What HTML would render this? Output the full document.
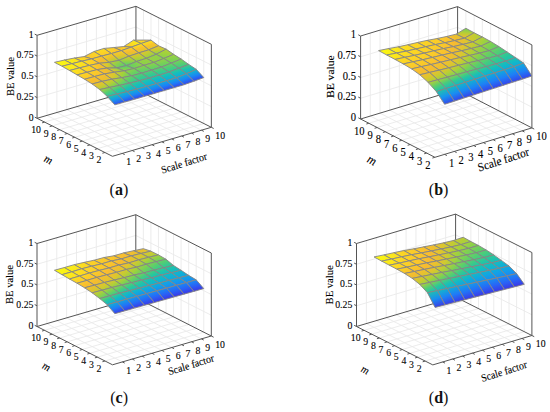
<!DOCTYPE html>
<html><head><meta charset="utf-8"><style>
html,body{margin:0;padding:0;background:#fff;}
svg{display:block;font-family:"Liberation Serif",serif;}
</style></head><body>
<svg width="550" height="412" viewBox="0 0 550 412">
<defs><linearGradient id="g1" gradientUnits="userSpaceOnUse" x1="142.67" y1="38.77" x2="141.88" y2="43.63"><stop offset="0" stop-color="#fac52b"/><stop offset="0.5" stop-color="#fcd624"/><stop offset="1" stop-color="#faea19"/></linearGradient><linearGradient id="g2" gradientUnits="userSpaceOnUse" x1="130.1" y1="49.43" x2="134.23" y2="40.37"><stop offset="0" stop-color="#fac92a"/><stop offset="0.5" stop-color="#fcd922"/><stop offset="1" stop-color="#faeb19"/></linearGradient><linearGradient id="g3" gradientUnits="userSpaceOnUse" x1="151.2" y1="49.06" x2="148.6" y2="40.9"><stop offset="0" stop-color="#e1c42e"/><stop offset="0.5" stop-color="#f9c32c"/><stop offset="1" stop-color="#fbe41d"/></linearGradient><linearGradient id="g4" gradientUnits="userSpaceOnUse" x1="116.79" y1="51.87" x2="128.86" y2="43.64"><stop offset="0" stop-color="#f9c32c"/><stop offset="0.5" stop-color="#faca29"/><stop offset="1" stop-color="#fbd126"/></linearGradient><linearGradient id="g5" gradientUnits="userSpaceOnUse" x1="140.99" y1="52.31" x2="138.86" y2="44.1"><stop offset="0" stop-color="#ddc62e"/><stop offset="0.5" stop-color="#f9c12d"/><stop offset="1" stop-color="#fbe31d"/></linearGradient><linearGradient id="g6" gradientUnits="userSpaceOnUse" x1="158.18" y1="53.93" x2="156.71" y2="46.15"><stop offset="0" stop-color="#8cd14a"/><stop offset="0.5" stop-color="#c7cb31"/><stop offset="1" stop-color="#ecbf2f"/></linearGradient><linearGradient id="g7" gradientUnits="userSpaceOnUse" x1="118.03" y1="54.57" x2="106.76" y2="45.07"><stop offset="0" stop-color="#f9c02e"/><stop offset="0.5" stop-color="#fbcd28"/><stop offset="1" stop-color="#fcda22"/></linearGradient><linearGradient id="g8" gradientUnits="userSpaceOnUse" x1="130.72" y1="55.95" x2="129.42" y2="47.42"><stop offset="0" stop-color="#d6c82d"/><stop offset="0.5" stop-color="#f4bb30"/><stop offset="1" stop-color="#fcd425"/></linearGradient><linearGradient id="g9" gradientUnits="userSpaceOnUse" x1="149.56" y1="57.78" x2="145.25" y2="49.51"><stop offset="0" stop-color="#90d147"/><stop offset="0.5" stop-color="#c0cc33"/><stop offset="1" stop-color="#e4c32e"/></linearGradient><linearGradient id="g10" gradientUnits="userSpaceOnUse" x1="164.11" y1="58.58" x2="165.85" y2="49.06"><stop offset="0" stop-color="#86d14d"/><stop offset="0.5" stop-color="#9fd23d"/><stop offset="1" stop-color="#b5ce36"/></linearGradient><linearGradient id="g11" gradientUnits="userSpaceOnUse" x1="103.68" y1="55.71" x2="101.81" y2="49.02"><stop offset="0" stop-color="#fac929"/><stop offset="0.5" stop-color="#fcd325"/><stop offset="1" stop-color="#fbdd20"/></linearGradient><linearGradient id="g12" gradientUnits="userSpaceOnUse" x1="120.97" y1="60" x2="119.5" y2="50.93"><stop offset="0" stop-color="#a6d13a"/><stop offset="0.5" stop-color="#e4c32e"/><stop offset="1" stop-color="#facb29"/></linearGradient><linearGradient id="g13" gradientUnits="userSpaceOnUse" x1="138.29" y1="61.2" x2="136.93" y2="53.2"><stop offset="0" stop-color="#8cd149"/><stop offset="0.5" stop-color="#bdcd34"/><stop offset="1" stop-color="#e2c32e"/></linearGradient><linearGradient id="g14" gradientUnits="userSpaceOnUse" x1="163.19" y1="60.62" x2="146.92" y2="56.17"><stop offset="0" stop-color="#8ad14b"/><stop offset="0.5" stop-color="#92d146"/><stop offset="1" stop-color="#9ad240"/></linearGradient><linearGradient id="g15" gradientUnits="userSpaceOnUse" x1="90.23" y1="60.18" x2="95.05" y2="52.1"><stop offset="0" stop-color="#fac52b"/><stop offset="0.5" stop-color="#fbcd28"/><stop offset="1" stop-color="#fcd425"/></linearGradient><linearGradient id="g16" gradientUnits="userSpaceOnUse" x1="173.01" y1="62.84" x2="171.93" y2="54.55"><stop offset="0" stop-color="#6ed05d"/><stop offset="0.5" stop-color="#86d14d"/><stop offset="1" stop-color="#9ed23d"/></linearGradient><linearGradient id="g17" gradientUnits="userSpaceOnUse" x1="112.62" y1="63.21" x2="108.08" y2="53.19"><stop offset="0" stop-color="#a3d13b"/><stop offset="0.5" stop-color="#e5c22e"/><stop offset="1" stop-color="#fbd027"/></linearGradient><linearGradient id="g18" gradientUnits="userSpaceOnUse" x1="127.68" y1="65.58" x2="127.77" y2="56.22"><stop offset="0" stop-color="#52cd74"/><stop offset="0.5" stop-color="#96d143"/><stop offset="1" stop-color="#d7c82d"/></linearGradient><linearGradient id="g19" gradientUnits="userSpaceOnUse" x1="144.98" y1="65.37" x2="145.34" y2="58.27"><stop offset="0" stop-color="#8ad14b"/><stop offset="0.5" stop-color="#92d145"/><stop offset="1" stop-color="#9ad240"/></linearGradient><linearGradient id="g20" gradientUnits="userSpaceOnUse" x1="83.4" y1="56.41" x2="82.47" y2="61.33"><stop offset="0" stop-color="#fac52b"/><stop offset="0.5" stop-color="#fcd524"/><stop offset="1" stop-color="#fbe61b"/></linearGradient><linearGradient id="g21" gradientUnits="userSpaceOnUse" x1="163.58" y1="66.51" x2="161.61" y2="59.09"><stop offset="0" stop-color="#62cf66"/><stop offset="0.5" stop-color="#7ad056"/><stop offset="1" stop-color="#92d146"/></linearGradient><linearGradient id="g22" gradientUnits="userSpaceOnUse" x1="105.61" y1="65.65" x2="95.65" y2="55.14"><stop offset="0" stop-color="#d9c72d"/><stop offset="0.5" stop-color="#f8bb2f"/><stop offset="1" stop-color="#fcdb21"/></linearGradient><linearGradient id="g23" gradientUnits="userSpaceOnUse" x1="180.91" y1="67.75" x2="179.09" y2="59.51"><stop offset="0" stop-color="#38c98c"/><stop offset="0.5" stop-color="#59ce6e"/><stop offset="1" stop-color="#7ed052"/></linearGradient><linearGradient id="g24" gradientUnits="userSpaceOnUse" x1="121.5" y1="69.17" x2="114.1" y2="58.78"><stop offset="0" stop-color="#4fcc77"/><stop offset="0.5" stop-color="#8ad14a"/><stop offset="1" stop-color="#c6cb32"/></linearGradient><linearGradient id="g25" gradientUnits="userSpaceOnUse" x1="127.68" y1="68.33" x2="142.7" y2="62.19"><stop offset="0" stop-color="#5cce6c"/><stop offset="0.5" stop-color="#79d056"/><stop offset="1" stop-color="#99d241"/></linearGradient><linearGradient id="g26" gradientUnits="userSpaceOnUse" x1="76.32" y1="56.75" x2="69.97" y2="64.57"><stop offset="0" stop-color="#fbde20"/><stop offset="0.5" stop-color="#fbe81a"/><stop offset="1" stop-color="#faf115"/></linearGradient><linearGradient id="g27" gradientUnits="userSpaceOnUse" x1="153.54" y1="69.62" x2="151.87" y2="62.91"><stop offset="0" stop-color="#5ace6d"/><stop offset="0.5" stop-color="#73d05a"/><stop offset="1" stop-color="#8fd147"/></linearGradient><linearGradient id="g28" gradientUnits="userSpaceOnUse" x1="99.25" y1="62.45" x2="81.78" y2="61.95"><stop offset="0" stop-color="#f9c32c"/><stop offset="0.5" stop-color="#fbd226"/><stop offset="1" stop-color="#fbe11e"/></linearGradient><linearGradient id="g29" gradientUnits="userSpaceOnUse" x1="171.01" y1="71.54" x2="169.21" y2="63.54"><stop offset="0" stop-color="#2cc898"/><stop offset="0.5" stop-color="#4ccc7a"/><stop offset="1" stop-color="#6ed05d"/></linearGradient><linearGradient id="g30" gradientUnits="userSpaceOnUse" x1="115.64" y1="63.59" x2="100.17" y2="67.25"><stop offset="0" stop-color="#78d057"/><stop offset="0.5" stop-color="#d6c82d"/><stop offset="1" stop-color="#fac72a"/></linearGradient><linearGradient id="g31" gradientUnits="userSpaceOnUse" x1="188.63" y1="73.12" x2="186.55" y2="64.96"><stop offset="0" stop-color="#10b1d4"/><stop offset="0.5" stop-color="#1dc1b0"/><stop offset="1" stop-color="#46cb7f"/></linearGradient><linearGradient id="g32" gradientUnits="userSpaceOnUse" x1="125.31" y1="65.6" x2="125.44" y2="70.79"><stop offset="0" stop-color="#52cd75"/><stop offset="0.5" stop-color="#76d058"/><stop offset="1" stop-color="#9dd23e"/></linearGradient><linearGradient id="g33" gradientUnits="userSpaceOnUse" x1="70.92" y1="66.15" x2="55.42" y2="59.99"><stop offset="0" stop-color="#faeb19"/><stop offset="0.5" stop-color="#faf313"/><stop offset="1" stop-color="#faf90f"/></linearGradient><linearGradient id="g34" gradientUnits="userSpaceOnUse" x1="143.43" y1="72.86" x2="142.17" y2="65.63"><stop offset="0" stop-color="#50cd76"/><stop offset="0.5" stop-color="#6ccf5f"/><stop offset="1" stop-color="#8cd149"/></linearGradient><linearGradient id="g35" gradientUnits="userSpaceOnUse" x1="88.66" y1="67.37" x2="72.59" y2="61.73"><stop offset="0" stop-color="#fcd525"/><stop offset="0.5" stop-color="#fbe01e"/><stop offset="1" stop-color="#faed18"/></linearGradient><linearGradient id="g36" gradientUnits="userSpaceOnUse" x1="160.97" y1="74.8" x2="159.51" y2="67.46"><stop offset="0" stop-color="#25c5a2"/><stop offset="0.5" stop-color="#40ca85"/><stop offset="1" stop-color="#60cf67"/></linearGradient><linearGradient id="g37" gradientUnits="userSpaceOnUse" x1="106.69" y1="66.27" x2="89.41" y2="67"><stop offset="0" stop-color="#eac02f"/><stop offset="0.5" stop-color="#f9c22c"/><stop offset="1" stop-color="#fcd923"/></linearGradient><linearGradient id="g38" gradientUnits="userSpaceOnUse" x1="178.87" y1="77.06" x2="176.49" y2="68.89"><stop offset="0" stop-color="#10abdb"/><stop offset="0.5" stop-color="#14bebe"/><stop offset="1" stop-color="#37c98d"/></linearGradient><linearGradient id="g39" gradientUnits="userSpaceOnUse" x1="116.36" y1="67.62" x2="114.46" y2="72.29"><stop offset="0" stop-color="#87d14d"/><stop offset="0.5" stop-color="#bfcc34"/><stop offset="1" stop-color="#e7c12e"/></linearGradient><linearGradient id="g40" gradientUnits="userSpaceOnUse" x1="196.66" y1="80.35" x2="193.43" y2="70.29"><stop offset="0" stop-color="#3546ed"/><stop offset="0.5" stop-color="#1a89f3"/><stop offset="1" stop-color="#12b9c7"/></linearGradient><linearGradient id="g41" gradientUnits="userSpaceOnUse" x1="136.15" y1="76.87" x2="129.61" y2="67.17"><stop offset="0" stop-color="#4fcc77"/><stop offset="0.5" stop-color="#72d05b"/><stop offset="1" stop-color="#9ad240"/></linearGradient><linearGradient id="g42" gradientUnits="userSpaceOnUse" x1="75.98" y1="71.78" x2="65.5" y2="62.4"><stop offset="0" stop-color="#fbe01e"/><stop offset="0.5" stop-color="#faeb19"/><stop offset="1" stop-color="#faf214"/></linearGradient><linearGradient id="g43" gradientUnits="userSpaceOnUse" x1="151.23" y1="77.54" x2="149.45" y2="70.66"><stop offset="0" stop-color="#24c4a5"/><stop offset="0.5" stop-color="#3aca8b"/><stop offset="1" stop-color="#57cd70"/></linearGradient><linearGradient id="g44" gradientUnits="userSpaceOnUse" x1="93.86" y1="73.42" x2="82.43" y2="64.2"><stop offset="0" stop-color="#fac92a"/><stop offset="0.5" stop-color="#fcd425"/><stop offset="1" stop-color="#fbe01f"/></linearGradient><linearGradient id="g45" gradientUnits="userSpaceOnUse" x1="168.71" y1="80.12" x2="166.8" y2="72.55"><stop offset="0" stop-color="#10aadc"/><stop offset="0.5" stop-color="#13bbc2"/><stop offset="1" stop-color="#2ac79a"/></linearGradient><linearGradient id="g46" gradientUnits="userSpaceOnUse" x1="109.37" y1="67.25" x2="101.86" y2="74.7"><stop offset="0" stop-color="#dec52e"/><stop offset="0.5" stop-color="#f2bc2f"/><stop offset="1" stop-color="#fac92a"/></linearGradient><linearGradient id="g47" gradientUnits="userSpaceOnUse" x1="186.76" y1="83.79" x2="183.57" y2="74.68"><stop offset="0" stop-color="#3547ed"/><stop offset="0.5" stop-color="#1c83f5"/><stop offset="1" stop-color="#0fb0d5"/></linearGradient><linearGradient id="g48" gradientUnits="userSpaceOnUse" x1="130.6" y1="78.01" x2="115.36" y2="70.19"><stop offset="0" stop-color="#5ace6d"/><stop offset="0.5" stop-color="#a0d23c"/><stop offset="1" stop-color="#dcc62d"/></linearGradient><linearGradient id="g49" gradientUnits="userSpaceOnUse" x1="142.54" y1="81.27" x2="138.37" y2="72.6"><stop offset="0" stop-color="#25c5a3"/><stop offset="0.5" stop-color="#3eca86"/><stop offset="1" stop-color="#5fce69"/></linearGradient><linearGradient id="g50" gradientUnits="userSpaceOnUse" x1="82.03" y1="76.18" x2="74.52" y2="66.61"><stop offset="0" stop-color="#fbd126"/><stop offset="0.5" stop-color="#fcdc21"/><stop offset="1" stop-color="#fbe91a"/></linearGradient><linearGradient id="g51" gradientUnits="userSpaceOnUse" x1="158.92" y1="82.91" x2="156.85" y2="75.83"><stop offset="0" stop-color="#10abdb"/><stop offset="0.5" stop-color="#13bac5"/><stop offset="1" stop-color="#25c5a3"/></linearGradient><linearGradient id="g52" gradientUnits="userSpaceOnUse" x1="100.95" y1="77.8" x2="90.46" y2="68.41"><stop offset="0" stop-color="#f9bf2e"/><stop offset="0.5" stop-color="#fac82a"/><stop offset="1" stop-color="#fbd126"/></linearGradient><linearGradient id="g53" gradientUnits="userSpaceOnUse" x1="176.56" y1="86.94" x2="174.07" y2="78.46"><stop offset="0" stop-color="#3547ed"/><stop offset="0.5" stop-color="#1d80f7"/><stop offset="1" stop-color="#10abdb"/></linearGradient><linearGradient id="g54" gradientUnits="userSpaceOnUse" x1="120.21" y1="80.25" x2="106.09" y2="71.29"><stop offset="0" stop-color="#97d242"/><stop offset="0.5" stop-color="#dac72d"/><stop offset="1" stop-color="#f9bf2e"/></linearGradient><linearGradient id="g55" gradientUnits="userSpaceOnUse" x1="134.45" y1="84.41" x2="126.53" y2="74.08"><stop offset="0" stop-color="#29c69d"/><stop offset="0.5" stop-color="#56cd71"/><stop offset="1" stop-color="#8fd147"/></linearGradient><linearGradient id="g56" gradientUnits="userSpaceOnUse" x1="149.48" y1="86.21" x2="146.49" y2="78.06"><stop offset="0" stop-color="#10abdb"/><stop offset="0.5" stop-color="#13bcc2"/><stop offset="1" stop-color="#2bc799"/></linearGradient><linearGradient id="g57" gradientUnits="userSpaceOnUse" x1="88.92" y1="80.33" x2="82.68" y2="71.11"><stop offset="0" stop-color="#fac52b"/><stop offset="0.5" stop-color="#fbce27"/><stop offset="1" stop-color="#fcd723"/></linearGradient><linearGradient id="g58" gradientUnits="userSpaceOnUse" x1="166.67" y1="89.84" x2="164.18" y2="81.36"><stop offset="0" stop-color="#3547ed"/><stop offset="0.5" stop-color="#1d80f7"/><stop offset="1" stop-color="#10abdb"/></linearGradient><linearGradient id="g59" gradientUnits="userSpaceOnUse" x1="106.5" y1="82.78" x2="100.1" y2="72.92"><stop offset="0" stop-color="#dac72d"/><stop offset="0.5" stop-color="#f0bd2f"/><stop offset="1" stop-color="#fac82a"/></linearGradient><linearGradient id="g60" gradientUnits="userSpaceOnUse" x1="124.81" y1="86.72" x2="116.39" y2="75.81"><stop offset="0" stop-color="#39c98b"/><stop offset="0.5" stop-color="#83d14f"/><stop offset="1" stop-color="#d2c92e"/></linearGradient><linearGradient id="g61" gradientUnits="userSpaceOnUse" x1="139.71" y1="89.05" x2="136.45" y2="80.49"><stop offset="0" stop-color="#10add9"/><stop offset="0.5" stop-color="#17bfb9"/><stop offset="1" stop-color="#3cca89"/></linearGradient><linearGradient id="g62" gradientUnits="userSpaceOnUse" x1="156.84" y1="92.79" x2="154.21" y2="84.09"><stop offset="0" stop-color="#3547ed"/><stop offset="0.5" stop-color="#1d81f6"/><stop offset="1" stop-color="#0faed8"/></linearGradient><linearGradient id="g63" gradientUnits="userSpaceOnUse" x1="95.31" y1="84.51" x2="91.43" y2="76.14"><stop offset="0" stop-color="#ebc02f"/><stop offset="0.5" stop-color="#f8bc2f"/><stop offset="1" stop-color="#faca29"/></linearGradient><linearGradient id="g64" gradientUnits="userSpaceOnUse" x1="113.92" y1="88.67" x2="107.68" y2="78.08"><stop offset="0" stop-color="#60cf67"/><stop offset="0.5" stop-color="#b1cf37"/><stop offset="1" stop-color="#ebc02f"/></linearGradient><linearGradient id="g65" gradientUnits="userSpaceOnUse" x1="130.45" y1="92.13" x2="125.92" y2="82.39"><stop offset="0" stop-color="#0fafd6"/><stop offset="0.5" stop-color="#22c3a8"/><stop offset="1" stop-color="#5dce6b"/></linearGradient><linearGradient id="g66" gradientUnits="userSpaceOnUse" x1="146.97" y1="95.68" x2="144.3" y2="86.88"><stop offset="0" stop-color="#3547ed"/><stop offset="0.5" stop-color="#1c83f6"/><stop offset="1" stop-color="#0fb0d5"/></linearGradient><linearGradient id="g67" gradientUnits="userSpaceOnUse" x1="103.28" y1="90.49" x2="98.59" y2="80.86"><stop offset="0" stop-color="#92d145"/><stop offset="0.5" stop-color="#d1c92f"/><stop offset="1" stop-color="#f4bc30"/></linearGradient><linearGradient id="g68" gradientUnits="userSpaceOnUse" x1="120.82" y1="94.69" x2="115.76" y2="84.39"><stop offset="0" stop-color="#11b6cb"/><stop offset="0.5" stop-color="#35c98e"/><stop offset="1" stop-color="#8bd14a"/></linearGradient><linearGradient id="g69" gradientUnits="userSpaceOnUse" x1="137.22" y1="98.67" x2="134.24" y2="89.33"><stop offset="0" stop-color="#3645ec"/><stop offset="0.5" stop-color="#1b87f4"/><stop offset="1" stop-color="#11b6cc"/></linearGradient><linearGradient id="g70" gradientUnits="userSpaceOnUse" x1="110.73" y1="96.92" x2="106.1" y2="86.69"><stop offset="0" stop-color="#16bfbb"/><stop offset="0.5" stop-color="#54cd72"/><stop offset="1" stop-color="#b2cf37"/></linearGradient><linearGradient id="g71" gradientUnits="userSpaceOnUse" x1="127.5" y1="101.62" x2="124.16" y2="91.66"><stop offset="0" stop-color="#3646ec"/><stop offset="0.5" stop-color="#198df1"/><stop offset="1" stop-color="#15bebc"/></linearGradient><linearGradient id="g72" gradientUnits="userSpaceOnUse" x1="117.65" y1="104.38" x2="114.23" y2="94.07"><stop offset="0" stop-color="#344aee"/><stop offset="0.5" stop-color="#1696ed"/><stop offset="1" stop-color="#23c4a5"/></linearGradient><linearGradient id="g73" gradientUnits="userSpaceOnUse" x1="465.64" y1="28.26" x2="464.65" y2="38.23"><stop offset="0" stop-color="#71d05b"/><stop offset="0.5" stop-color="#bbcd35"/><stop offset="1" stop-color="#ecbf2f"/></linearGradient><linearGradient id="g74" gradientUnits="userSpaceOnUse" x1="457.19" y1="34.19" x2="453.67" y2="40.51"><stop offset="0" stop-color="#e0c42e"/><stop offset="0.5" stop-color="#efbe2f"/><stop offset="1" stop-color="#f9bf2e"/></linearGradient><linearGradient id="g75" gradientUnits="userSpaceOnUse" x1="481.77" y1="34.97" x2="464.96" y2="40.02"><stop offset="0" stop-color="#a7d13a"/><stop offset="0.5" stop-color="#c7cb31"/><stop offset="1" stop-color="#e0c42e"/></linearGradient><linearGradient id="g76" gradientUnits="userSpaceOnUse" x1="450.63" y1="35.58" x2="440.85" y2="43.6"><stop offset="0" stop-color="#f8bc2f"/><stop offset="0.5" stop-color="#fac52b"/><stop offset="1" stop-color="#fbce27"/></linearGradient><linearGradient id="g77" gradientUnits="userSpaceOnUse" x1="472.64" y1="41.02" x2="454.74" y2="41.55"><stop offset="0" stop-color="#c9cb31"/><stop offset="0.5" stop-color="#e4c22e"/><stop offset="1" stop-color="#f8bb30"/></linearGradient><linearGradient id="g78" gradientUnits="userSpaceOnUse" x1="488.27" y1="45.49" x2="475.11" y2="37.8"><stop offset="0" stop-color="#84d14f"/><stop offset="0.5" stop-color="#a7d13a"/><stop offset="1" stop-color="#c7cb31"/></linearGradient><linearGradient id="g79" gradientUnits="userSpaceOnUse" x1="444.78" y1="43.68" x2="427.28" y2="39.45"><stop offset="0" stop-color="#faca29"/><stop offset="0.5" stop-color="#fbcd28"/><stop offset="1" stop-color="#fbd126"/></linearGradient><linearGradient id="g80" gradientUnits="userSpaceOnUse" x1="462.67" y1="45.63" x2="445.3" y2="41.51"><stop offset="0" stop-color="#e7c12e"/><stop offset="0.5" stop-color="#f8ba30"/><stop offset="1" stop-color="#faca29"/></linearGradient><linearGradient id="g81" gradientUnits="userSpaceOnUse" x1="478.29" y1="49.76" x2="465.6" y2="40.71"><stop offset="0" stop-color="#9ad240"/><stop offset="0.5" stop-color="#c5cb32"/><stop offset="1" stop-color="#e4c22e"/></linearGradient><linearGradient id="g82" gradientUnits="userSpaceOnUse" x1="495.06" y1="50.82" x2="484.85" y2="41.68"><stop offset="0" stop-color="#5dce6a"/><stop offset="0.5" stop-color="#7bd054"/><stop offset="1" stop-color="#9bd23f"/></linearGradient><linearGradient id="g83" gradientUnits="userSpaceOnUse" x1="435.09" y1="45.53" x2="417.57" y2="41.54"><stop offset="0" stop-color="#fbcd28"/><stop offset="0.5" stop-color="#fbd126"/><stop offset="1" stop-color="#fcd525"/></linearGradient><linearGradient id="g84" gradientUnits="userSpaceOnUse" x1="449.7" y1="50.54" x2="438.85" y2="40.68"><stop offset="0" stop-color="#f8bd2f"/><stop offset="0.5" stop-color="#fac62b"/><stop offset="1" stop-color="#fbcf27"/></linearGradient><linearGradient id="g85" gradientUnits="userSpaceOnUse" x1="468.75" y1="52.06" x2="455.73" y2="43.06"><stop offset="0" stop-color="#bccd34"/><stop offset="0.5" stop-color="#e1c42e"/><stop offset="1" stop-color="#f8bc2f"/></linearGradient><linearGradient id="g86" gradientUnits="userSpaceOnUse" x1="486.42" y1="54.34" x2="473.98" y2="44.87"><stop offset="0" stop-color="#6ecf5d"/><stop offset="0.5" stop-color="#96d143"/><stop offset="1" stop-color="#bbcd35"/></linearGradient><linearGradient id="g87" gradientUnits="userSpaceOnUse" x1="425.4" y1="47.69" x2="407.87" y2="43.81"><stop offset="0" stop-color="#fbd126"/><stop offset="0.5" stop-color="#fcd525"/><stop offset="1" stop-color="#fcd823"/></linearGradient><linearGradient id="g88" gradientUnits="userSpaceOnUse" x1="502.14" y1="56.09" x2="494.26" y2="46.53"><stop offset="0" stop-color="#37c98d"/><stop offset="0.5" stop-color="#52cd75"/><stop offset="1" stop-color="#6dcf5e"/></linearGradient><linearGradient id="g89" gradientUnits="userSpaceOnUse" x1="443.33" y1="49.65" x2="425.84" y2="45.69"><stop offset="0" stop-color="#fac72b"/><stop offset="0.5" stop-color="#fbcc28"/><stop offset="1" stop-color="#fbd226"/></linearGradient><linearGradient id="g90" gradientUnits="userSpaceOnUse" x1="459.97" y1="53.66" x2="445.1" y2="45.71"><stop offset="0" stop-color="#e2c42e"/><stop offset="0.5" stop-color="#f4bc30"/><stop offset="1" stop-color="#fac92a"/></linearGradient><linearGradient id="g91" gradientUnits="userSpaceOnUse" x1="478.47" y1="55.43" x2="462.52" y2="48.47"><stop offset="0" stop-color="#8cd14a"/><stop offset="0.5" stop-color="#b9cd35"/><stop offset="1" stop-color="#dec52e"/></linearGradient><linearGradient id="g92" gradientUnits="userSpaceOnUse" x1="414.08" y1="44.83" x2="399.79" y2="51.08"><stop offset="0" stop-color="#fcd425"/><stop offset="0.5" stop-color="#fcdb21"/><stop offset="1" stop-color="#fbe41d"/></linearGradient><linearGradient id="g93" gradientUnits="userSpaceOnUse" x1="493.54" y1="59.61" x2="483.36" y2="49.3"><stop offset="0" stop-color="#43cb82"/><stop offset="0.5" stop-color="#64cf64"/><stop offset="1" stop-color="#8cd149"/></linearGradient><linearGradient id="g94" gradientUnits="userSpaceOnUse" x1="433.62" y1="51.88" x2="416.15" y2="47.96"><stop offset="0" stop-color="#fbcd28"/><stop offset="0.5" stop-color="#fbd126"/><stop offset="1" stop-color="#fcd525"/></linearGradient><linearGradient id="g95" gradientUnits="userSpaceOnUse" x1="509.18" y1="61.26" x2="503.68" y2="52.04"><stop offset="0" stop-color="#19c0b6"/><stop offset="0.5" stop-color="#29c69d"/><stop offset="1" stop-color="#43cb82"/></linearGradient><linearGradient id="g96" gradientUnits="userSpaceOnUse" x1="449.24" y1="56.41" x2="436.44" y2="47.22"><stop offset="0" stop-color="#f6bb30"/><stop offset="0.5" stop-color="#f9c32c"/><stop offset="1" stop-color="#fbce27"/></linearGradient><linearGradient id="g97" gradientUnits="userSpaceOnUse" x1="468.85" y1="57.59" x2="452.73" y2="50.69"><stop offset="0" stop-color="#b3ce37"/><stop offset="0.5" stop-color="#ddc62e"/><stop offset="1" stop-color="#f5bb30"/></linearGradient><linearGradient id="g98" gradientUnits="userSpaceOnUse" x1="405.47" y1="48" x2="389" y2="51.85"><stop offset="0" stop-color="#fcdb21"/><stop offset="0.5" stop-color="#fbe81b"/><stop offset="1" stop-color="#faf215"/></linearGradient><linearGradient id="g99" gradientUnits="userSpaceOnUse" x1="483.38" y1="62.1" x2="474.11" y2="51.6"><stop offset="0" stop-color="#55cd71"/><stop offset="0.5" stop-color="#82d050"/><stop offset="1" stop-color="#b0cf38"/></linearGradient><linearGradient id="g100" gradientUnits="userSpaceOnUse" x1="423.92" y1="54.2" x2="406.45" y2="50.14"><stop offset="0" stop-color="#fbd027"/><stop offset="0.5" stop-color="#fcd524"/><stop offset="1" stop-color="#fcdb21"/></linearGradient><linearGradient id="g101" gradientUnits="userSpaceOnUse" x1="499.57" y1="64.7" x2="493.8" y2="54.74"><stop offset="0" stop-color="#1dc2b0"/><stop offset="0.5" stop-color="#33c991"/><stop offset="1" stop-color="#57cd70"/></linearGradient><linearGradient id="g102" gradientUnits="userSpaceOnUse" x1="438.29" y1="59.07" x2="427.99" y2="49.17"><stop offset="0" stop-color="#f9c32c"/><stop offset="0.5" stop-color="#faca29"/><stop offset="1" stop-color="#fbd226"/></linearGradient><linearGradient id="g103" gradientUnits="userSpaceOnUse" x1="516.06" y1="65.86" x2="513.27" y2="58.34"><stop offset="0" stop-color="#10add9"/><stop offset="0.5" stop-color="#12b8c8"/><stop offset="1" stop-color="#1cc1b2"/></linearGradient><linearGradient id="g104" gradientUnits="userSpaceOnUse" x1="457.34" y1="61.12" x2="444.86" y2="51.53"><stop offset="0" stop-color="#ddc62e"/><stop offset="0.5" stop-color="#f0be2f"/><stop offset="1" stop-color="#f9c42c"/></linearGradient><linearGradient id="g105" gradientUnits="userSpaceOnUse" x1="396.32" y1="53.83" x2="378.74" y2="49.81"><stop offset="0" stop-color="#fbe81b"/><stop offset="0.5" stop-color="#faf314"/><stop offset="1" stop-color="#fafa0e"/></linearGradient><linearGradient id="g106" gradientUnits="userSpaceOnUse" x1="474.59" y1="64.33" x2="463.48" y2="53.92"><stop offset="0" stop-color="#6ccf5f"/><stop offset="0.5" stop-color="#a7d13a"/><stop offset="1" stop-color="#dac72d"/></linearGradient><linearGradient id="g107" gradientUnits="userSpaceOnUse" x1="411.05" y1="59.19" x2="399.9" y2="49.23"><stop offset="0" stop-color="#fcd325"/><stop offset="0.5" stop-color="#fcdc21"/><stop offset="1" stop-color="#fbe71b"/></linearGradient><linearGradient id="g108" gradientUnits="userSpaceOnUse" x1="490.32" y1="67.5" x2="483.64" y2="57.06"><stop offset="0" stop-color="#25c5a3"/><stop offset="0.5" stop-color="#45cb80"/><stop offset="1" stop-color="#6ed05d"/></linearGradient><linearGradient id="g109" gradientUnits="userSpaceOnUse" x1="427.4" y1="61.43" x2="419.48" y2="51.41"><stop offset="0" stop-color="#faca29"/><stop offset="0.5" stop-color="#fbcf27"/><stop offset="1" stop-color="#fcd525"/></linearGradient><linearGradient id="g110" gradientUnits="userSpaceOnUse" x1="506.51" y1="69.45" x2="503.35" y2="61.1"><stop offset="0" stop-color="#10aadc"/><stop offset="0.5" stop-color="#12b9c6"/><stop offset="1" stop-color="#23c4a5"/></linearGradient><linearGradient id="g111" gradientUnits="userSpaceOnUse" x1="446.41" y1="63.75" x2="436.39" y2="53.56"><stop offset="0" stop-color="#efbe2f"/><stop offset="0.5" stop-color="#f9be2e"/><stop offset="1" stop-color="#faca29"/></linearGradient><linearGradient id="g112" gradientUnits="userSpaceOnUse" x1="525.02" y1="78.33" x2="520.76" y2="63.91"><stop offset="0" stop-color="#3644ec"/><stop offset="0.5" stop-color="#1d81f6"/><stop offset="1" stop-color="#0faed8"/></linearGradient><linearGradient id="g113" gradientUnits="userSpaceOnUse" x1="464.16" y1="66.71" x2="454.53" y2="56.09"><stop offset="0" stop-color="#96d143"/><stop offset="0.5" stop-color="#cdca30"/><stop offset="1" stop-color="#eebe2f"/></linearGradient><linearGradient id="g114" gradientUnits="userSpaceOnUse" x1="400.24" y1="61.3" x2="391.32" y2="51.08"><stop offset="0" stop-color="#fcd723"/><stop offset="0.5" stop-color="#fbe61c"/><stop offset="1" stop-color="#faf215"/></linearGradient><linearGradient id="g115" gradientUnits="userSpaceOnUse" x1="481.39" y1="70.23" x2="473.16" y2="59.29"><stop offset="0" stop-color="#2ec895"/><stop offset="0.5" stop-color="#5cce6b"/><stop offset="1" stop-color="#92d145"/></linearGradient><linearGradient id="g116" gradientUnits="userSpaceOnUse" x1="417.57" y1="63.62" x2="409.9" y2="53.46"><stop offset="0" stop-color="#fbcd28"/><stop offset="0.5" stop-color="#fcd325"/><stop offset="1" stop-color="#fcd823"/></linearGradient><linearGradient id="g117" gradientUnits="userSpaceOnUse" x1="497.01" y1="72.67" x2="493.45" y2="63.7"><stop offset="0" stop-color="#10aadc"/><stop offset="0.5" stop-color="#13bcc1"/><stop offset="1" stop-color="#2dc896"/></linearGradient><linearGradient id="g118" gradientUnits="userSpaceOnUse" x1="435.26" y1="66.04" x2="428.13" y2="55.91"><stop offset="0" stop-color="#f8bc2f"/><stop offset="0.5" stop-color="#fac52b"/><stop offset="1" stop-color="#fbce27"/></linearGradient><linearGradient id="g119" gradientUnits="userSpaceOnUse" x1="515.45" y1="81.36" x2="510.99" y2="67.61"><stop offset="0" stop-color="#3743eb"/><stop offset="0.5" stop-color="#1e7ef7"/><stop offset="1" stop-color="#10abdb"/></linearGradient><linearGradient id="g120" gradientUnits="userSpaceOnUse" x1="453.95" y1="69.11" x2="445.34" y2="58.46"><stop offset="0" stop-color="#becc34"/><stop offset="0.5" stop-color="#e2c32e"/><stop offset="1" stop-color="#f8bd2f"/></linearGradient><linearGradient id="g121" gradientUnits="userSpaceOnUse" x1="471.85" y1="72.78" x2="463.3" y2="61.71"><stop offset="0" stop-color="#44cb82"/><stop offset="0.5" stop-color="#7cd054"/><stop offset="1" stop-color="#b9cd35"/></linearGradient><linearGradient id="g122" gradientUnits="userSpaceOnUse" x1="406.42" y1="65.2" x2="401.66" y2="56.02"><stop offset="0" stop-color="#fbcf27"/><stop offset="0.5" stop-color="#fcd624"/><stop offset="1" stop-color="#fbde1f"/></linearGradient><linearGradient id="g123" gradientUnits="userSpaceOnUse" x1="487.5" y1="75.83" x2="483.54" y2="66.25"><stop offset="0" stop-color="#10abdb"/><stop offset="0.5" stop-color="#17bfb9"/><stop offset="1" stop-color="#43cb82"/></linearGradient><linearGradient id="g124" gradientUnits="userSpaceOnUse" x1="424.55" y1="67.95" x2="419.43" y2="58.36"><stop offset="0" stop-color="#f9c22c"/><stop offset="0.5" stop-color="#faca29"/><stop offset="1" stop-color="#fbd126"/></linearGradient><linearGradient id="g125" gradientUnits="userSpaceOnUse" x1="505.74" y1="84.5" x2="501.3" y2="70.74"><stop offset="0" stop-color="#3743eb"/><stop offset="0.5" stop-color="#1e7ef7"/><stop offset="1" stop-color="#10abdb"/></linearGradient><linearGradient id="g126" gradientUnits="userSpaceOnUse" x1="443.08" y1="71.33" x2="436.81" y2="60.99"><stop offset="0" stop-color="#dcc62d"/><stop offset="0.5" stop-color="#efbe2f"/><stop offset="1" stop-color="#f9c32c"/></linearGradient><linearGradient id="g127" gradientUnits="userSpaceOnUse" x1="461.41" y1="75.3" x2="454.35" y2="64.3"><stop offset="0" stop-color="#5cce6b"/><stop offset="0.5" stop-color="#9ed23d"/><stop offset="1" stop-color="#d9c72d"/></linearGradient><linearGradient id="g128" gradientUnits="userSpaceOnUse" x1="478.05" y1="78.99" x2="473.6" y2="68.84"><stop offset="0" stop-color="#10acda"/><stop offset="0.5" stop-color="#1fc2ac"/><stop offset="1" stop-color="#5bce6c"/></linearGradient><linearGradient id="g129" gradientUnits="userSpaceOnUse" x1="413.03" y1="68.54" x2="411.57" y2="62.08"><stop offset="0" stop-color="#fac62b"/><stop offset="0.5" stop-color="#facb29"/><stop offset="1" stop-color="#fbd126"/></linearGradient><linearGradient id="g130" gradientUnits="userSpaceOnUse" x1="496.24" y1="87.73" x2="491.39" y2="73.74"><stop offset="0" stop-color="#3742eb"/><stop offset="0.5" stop-color="#1d7ff7"/><stop offset="1" stop-color="#0fadd9"/></linearGradient><linearGradient id="g131" gradientUnits="userSpaceOnUse" x1="432.43" y1="73.25" x2="428.05" y2="63.58"><stop offset="0" stop-color="#e7c12e"/><stop offset="0.5" stop-color="#f6bb30"/><stop offset="1" stop-color="#fac72a"/></linearGradient><linearGradient id="g132" gradientUnits="userSpaceOnUse" x1="450.87" y1="77.67" x2="445.5" y2="67.02"><stop offset="0" stop-color="#76d058"/><stop offset="0.5" stop-color="#b8ce36"/><stop offset="1" stop-color="#e6c12e"/></linearGradient><linearGradient id="g133" gradientUnits="userSpaceOnUse" x1="468.41" y1="82.07" x2="463.85" y2="71.59"><stop offset="0" stop-color="#0fb0d5"/><stop offset="0.5" stop-color="#28c69e"/><stop offset="1" stop-color="#75d058"/></linearGradient><linearGradient id="g134" gradientUnits="userSpaceOnUse" x1="486.56" y1="90.87" x2="481.68" y2="76.86"><stop offset="0" stop-color="#3742eb"/><stop offset="0.5" stop-color="#1d81f6"/><stop offset="1" stop-color="#0fb0d6"/></linearGradient><linearGradient id="g135" gradientUnits="userSpaceOnUse" x1="421.86" y1="74.85" x2="419.23" y2="66.46"><stop offset="0" stop-color="#efbe2f"/><stop offset="0.5" stop-color="#f8bc2f"/><stop offset="1" stop-color="#fac72a"/></linearGradient><linearGradient id="g136" gradientUnits="userSpaceOnUse" x1="440.94" y1="80.16" x2="436.02" y2="69.46"><stop offset="0" stop-color="#90d146"/><stop offset="0.5" stop-color="#cbca30"/><stop offset="1" stop-color="#efbe2f"/></linearGradient><linearGradient id="g137" gradientUnits="userSpaceOnUse" x1="458.76" y1="85.16" x2="454.09" y2="74.31"><stop offset="0" stop-color="#11b5ce"/><stop offset="0.5" stop-color="#34c990"/><stop offset="1" stop-color="#8ed148"/></linearGradient><linearGradient id="g138" gradientUnits="userSpaceOnUse" x1="477.07" y1="94.1" x2="471.78" y2="79.92"><stop offset="0" stop-color="#3841ea"/><stop offset="0.5" stop-color="#1c83f5"/><stop offset="1" stop-color="#11b4cf"/></linearGradient><linearGradient id="g139" gradientUnits="userSpaceOnUse" x1="431.21" y1="82.68" x2="426.36" y2="71.85"><stop offset="0" stop-color="#a9d039"/><stop offset="0.5" stop-color="#d9c72d"/><stop offset="1" stop-color="#f4bc30"/></linearGradient><linearGradient id="g140" gradientUnits="userSpaceOnUse" x1="449.35" y1="88.33" x2="444.09" y2="76.85"><stop offset="0" stop-color="#13bac5"/><stop offset="0.5" stop-color="#46cb7f"/><stop offset="1" stop-color="#a7d13a"/></linearGradient><linearGradient id="g141" gradientUnits="userSpaceOnUse" x1="467.34" y1="97.23" x2="462.1" y2="83.06"><stop offset="0" stop-color="#3841ea"/><stop offset="0.5" stop-color="#1b87f4"/><stop offset="1" stop-color="#12b8c8"/></linearGradient><linearGradient id="g142" gradientUnits="userSpaceOnUse" x1="440.1" y1="91.51" x2="433.94" y2="79.38"><stop offset="0" stop-color="#18c0b7"/><stop offset="0.5" stop-color="#5bce6c"/><stop offset="1" stop-color="#becd34"/></linearGradient><linearGradient id="g143" gradientUnits="userSpaceOnUse" x1="457.98" y1="100.49" x2="452.05" y2="86.02"><stop offset="0" stop-color="#3841ea"/><stop offset="0.5" stop-color="#198cf2"/><stop offset="1" stop-color="#15bebd"/></linearGradient><linearGradient id="g144" gradientUnits="userSpaceOnUse" x1="448.44" y1="103.68" x2="442.2" y2="89.09"><stop offset="0" stop-color="#3644ec"/><stop offset="0.5" stop-color="#1793ef"/><stop offset="1" stop-color="#22c4a8"/></linearGradient><linearGradient id="g145" gradientUnits="userSpaceOnUse" x1="143.52" y1="254.22" x2="140.8" y2="247.66"><stop offset="0" stop-color="#d7c82d"/><stop offset="0.5" stop-color="#e6c12e"/><stop offset="1" stop-color="#f5bb30"/></linearGradient><linearGradient id="g146" gradientUnits="userSpaceOnUse" x1="135.66" y1="257.6" x2="128.9" y2="248.83"><stop offset="0" stop-color="#e1c42e"/><stop offset="0.5" stop-color="#f0be2f"/><stop offset="1" stop-color="#f9c02d"/></linearGradient><linearGradient id="g147" gradientUnits="userSpaceOnUse" x1="151.44" y1="258.04" x2="148.01" y2="250.35"><stop offset="0" stop-color="#a5d13b"/><stop offset="0.5" stop-color="#c6cb32"/><stop offset="1" stop-color="#dfc52e"/></linearGradient><linearGradient id="g148" gradientUnits="userSpaceOnUse" x1="130.07" y1="258.76" x2="114.75" y2="253.03"><stop offset="0" stop-color="#f0be2f"/><stop offset="0.5" stop-color="#f8bd2f"/><stop offset="1" stop-color="#fac82a"/></linearGradient><linearGradient id="g149" gradientUnits="userSpaceOnUse" x1="143.84" y1="261.34" x2="135.85" y2="251.92"><stop offset="0" stop-color="#b4ce37"/><stop offset="0.5" stop-color="#d9c72d"/><stop offset="1" stop-color="#eebe2f"/></linearGradient><linearGradient id="g150" gradientUnits="userSpaceOnUse" x1="158.9" y1="262.18" x2="155.67" y2="254.38"><stop offset="0" stop-color="#5fce69"/><stop offset="0.5" stop-color="#8ad14b"/><stop offset="1" stop-color="#b4ce37"/></linearGradient><linearGradient id="g151" gradientUnits="userSpaceOnUse" x1="120.19" y1="261.51" x2="104.85" y2="255.09"><stop offset="0" stop-color="#f9bf2e"/><stop offset="0.5" stop-color="#fac52b"/><stop offset="1" stop-color="#faca29"/></linearGradient><linearGradient id="g152" gradientUnits="userSpaceOnUse" x1="135.48" y1="263.85" x2="124.47" y2="254.97"><stop offset="0" stop-color="#d2c92e"/><stop offset="0.5" stop-color="#e9c02f"/><stop offset="1" stop-color="#f9bf2e"/></linearGradient><linearGradient id="g153" gradientUnits="userSpaceOnUse" x1="150.02" y1="265.25" x2="144.78" y2="256.3"><stop offset="0" stop-color="#6ccf5f"/><stop offset="0.5" stop-color="#a0d23c"/><stop offset="1" stop-color="#ceca2f"/></linearGradient><linearGradient id="g154" gradientUnits="userSpaceOnUse" x1="166.91" y1="268.34" x2="162.79" y2="258.81"><stop offset="0" stop-color="#24c5a4"/><stop offset="0.5" stop-color="#45cb81"/><stop offset="1" stop-color="#6dcf5e"/></linearGradient><linearGradient id="g155" gradientUnits="userSpaceOnUse" x1="110.44" y1="263.51" x2="94.86" y2="257.77"><stop offset="0" stop-color="#fac62b"/><stop offset="0.5" stop-color="#faca29"/><stop offset="1" stop-color="#fbcd28"/></linearGradient><linearGradient id="g156" gradientUnits="userSpaceOnUse" x1="124.2" y1="266.81" x2="115.95" y2="257.09"><stop offset="0" stop-color="#e8c12f"/><stop offset="0.5" stop-color="#f7ba30"/><stop offset="1" stop-color="#fac82a"/></linearGradient><linearGradient id="g157" gradientUnits="userSpaceOnUse" x1="141.51" y1="268.25" x2="133.56" y2="258.87"><stop offset="0" stop-color="#86d14e"/><stop offset="0.5" stop-color="#becd34"/><stop offset="1" stop-color="#e6c22e"/></linearGradient><linearGradient id="g158" gradientUnits="userSpaceOnUse" x1="158.43" y1="271.24" x2="151.52" y2="260.76"><stop offset="0" stop-color="#2cc897"/><stop offset="0.5" stop-color="#57cd70"/><stop offset="1" stop-color="#87d14c"/></linearGradient><linearGradient id="g159" gradientUnits="userSpaceOnUse" x1="100.57" y1="260.8" x2="85.03" y2="265.53"><stop offset="0" stop-color="#fac92a"/><stop offset="0.5" stop-color="#fbd027"/><stop offset="1" stop-color="#fcd723"/></linearGradient><linearGradient id="g160" gradientUnits="userSpaceOnUse" x1="173.86" y1="273" x2="170.9" y2="265.08"><stop offset="0" stop-color="#11b6cb"/><stop offset="0.5" stop-color="#19c0b6"/><stop offset="1" stop-color="#2bc79a"/></linearGradient><linearGradient id="g161" gradientUnits="userSpaceOnUse" x1="115.53" y1="269.02" x2="104.89" y2="259.9"><stop offset="0" stop-color="#f7ba30"/><stop offset="0.5" stop-color="#f9c22c"/><stop offset="1" stop-color="#facb29"/></linearGradient><linearGradient id="g162" gradientUnits="userSpaceOnUse" x1="131.63" y1="271.05" x2="123.64" y2="261.23"><stop offset="0" stop-color="#b0cf38"/><stop offset="0.5" stop-color="#ddc62e"/><stop offset="1" stop-color="#f7ba30"/></linearGradient><linearGradient id="g163" gradientUnits="userSpaceOnUse" x1="149.7" y1="273.82" x2="140.51" y2="263.51"><stop offset="0" stop-color="#43cb82"/><stop offset="0.5" stop-color="#73d05a"/><stop offset="1" stop-color="#aad039"/></linearGradient><linearGradient id="g164" gradientUnits="userSpaceOnUse" x1="91.51" y1="264.83" x2="74.31" y2="266.18"><stop offset="0" stop-color="#fbd027"/><stop offset="0.5" stop-color="#fcdb21"/><stop offset="1" stop-color="#fbe81b"/></linearGradient><linearGradient id="g165" gradientUnits="userSpaceOnUse" x1="164.8" y1="275.94" x2="160.2" y2="266.91"><stop offset="0" stop-color="#12b8c8"/><stop offset="0.5" stop-color="#21c3a9"/><stop offset="1" stop-color="#42cb83"/></linearGradient><linearGradient id="g166" gradientUnits="userSpaceOnUse" x1="108.35" y1="269.96" x2="92.3" y2="264.29"><stop offset="0" stop-color="#f9c22c"/><stop offset="0.5" stop-color="#faca29"/><stop offset="1" stop-color="#fbd126"/></linearGradient><linearGradient id="g167" gradientUnits="userSpaceOnUse" x1="181.26" y1="277.91" x2="178.59" y2="270.14"><stop offset="0" stop-color="#12a4e2"/><stop offset="0.5" stop-color="#0fafd7"/><stop offset="1" stop-color="#12b9c6"/></linearGradient><linearGradient id="g168" gradientUnits="userSpaceOnUse" x1="121.39" y1="273.38" x2="114.15" y2="264.03"><stop offset="0" stop-color="#d8c82d"/><stop offset="0.5" stop-color="#edbf2f"/><stop offset="1" stop-color="#f9c32c"/></linearGradient><linearGradient id="g169" gradientUnits="userSpaceOnUse" x1="139.81" y1="276.46" x2="130.6" y2="265.86"><stop offset="0" stop-color="#5dce6a"/><stop offset="0.5" stop-color="#9bd23f"/><stop offset="1" stop-color="#d5c82d"/></linearGradient><linearGradient id="g170" gradientUnits="userSpaceOnUse" x1="81.05" y1="270.85" x2="64.98" y2="265.53"><stop offset="0" stop-color="#fcdb21"/><stop offset="0.5" stop-color="#faea19"/><stop offset="1" stop-color="#faf413"/></linearGradient><linearGradient id="g171" gradientUnits="userSpaceOnUse" x1="155.14" y1="278.53" x2="150.12" y2="269.46"><stop offset="0" stop-color="#14bdc0"/><stop offset="0.5" stop-color="#2cc897"/><stop offset="1" stop-color="#5dce6a"/></linearGradient><linearGradient id="g172" gradientUnits="userSpaceOnUse" x1="98.5" y1="272.39" x2="82.4" y2="266.85"><stop offset="0" stop-color="#fac92a"/><stop offset="0.5" stop-color="#fbd226"/><stop offset="1" stop-color="#fcdb21"/></linearGradient><linearGradient id="g173" gradientUnits="userSpaceOnUse" x1="171.71" y1="280.67" x2="168.38" y2="272.3"><stop offset="0" stop-color="#11a5e1"/><stop offset="0.5" stop-color="#10b2d2"/><stop offset="1" stop-color="#14bdc0"/></linearGradient><linearGradient id="g174" gradientUnits="userSpaceOnUse" x1="111.54" y1="276.17" x2="104.22" y2="266.59"><stop offset="0" stop-color="#e8c12f"/><stop offset="0.5" stop-color="#f8bb30"/><stop offset="1" stop-color="#facb29"/></linearGradient><linearGradient id="g175" gradientUnits="userSpaceOnUse" x1="188.31" y1="282.06" x2="186.66" y2="275.79"><stop offset="0" stop-color="#1a8af3"/><stop offset="0.5" stop-color="#1598ec"/><stop offset="1" stop-color="#12a5e1"/></linearGradient><linearGradient id="g176" gradientUnits="userSpaceOnUse" x1="129.23" y1="278.72" x2="121.46" y2="268.59"><stop offset="0" stop-color="#87d14c"/><stop offset="0.5" stop-color="#c0cc33"/><stop offset="1" stop-color="#e7c12e"/></linearGradient><linearGradient id="g177" gradientUnits="userSpaceOnUse" x1="69.34" y1="275.39" x2="56.91" y2="266.72"><stop offset="0" stop-color="#fbe91a"/><stop offset="0.5" stop-color="#faf313"/><stop offset="1" stop-color="#fafa0e"/></linearGradient><linearGradient id="g178" gradientUnits="userSpaceOnUse" x1="145.84" y1="281.33" x2="139.63" y2="271.5"><stop offset="0" stop-color="#1ec2af"/><stop offset="0.5" stop-color="#48cb7d"/><stop offset="1" stop-color="#86d14d"/></linearGradient><linearGradient id="g179" gradientUnits="userSpaceOnUse" x1="88.67" y1="274.99" x2="72.48" y2="269.85"><stop offset="0" stop-color="#fbd126"/><stop offset="0.5" stop-color="#fcdc21"/><stop offset="1" stop-color="#fbe91a"/></linearGradient><linearGradient id="g180" gradientUnits="userSpaceOnUse" x1="162.54" y1="283.67" x2="157.8" y2="274.5"><stop offset="0" stop-color="#11a8de"/><stop offset="0.5" stop-color="#11b6cb"/><stop offset="1" stop-color="#1dc1b0"/></linearGradient><linearGradient id="g181" gradientUnits="userSpaceOnUse" x1="100.9" y1="278.5" x2="95.11" y2="269.36"><stop offset="0" stop-color="#f5bb30"/><stop offset="0.5" stop-color="#f9c42c"/><stop offset="1" stop-color="#fbd126"/></linearGradient><linearGradient id="g182" gradientUnits="userSpaceOnUse" x1="178.61" y1="284.9" x2="176.57" y2="278.09"><stop offset="0" stop-color="#1a88f3"/><stop offset="0.5" stop-color="#1599ec"/><stop offset="1" stop-color="#11a8de"/></linearGradient><linearGradient id="g183" gradientUnits="userSpaceOnUse" x1="120.26" y1="281.34" x2="110.65" y2="271.12"><stop offset="0" stop-color="#b0cf38"/><stop offset="0.5" stop-color="#ddc62e"/><stop offset="1" stop-color="#f7ba30"/></linearGradient><linearGradient id="g184" gradientUnits="userSpaceOnUse" x1="196.34" y1="290.76" x2="193.74" y2="280.49"><stop offset="0" stop-color="#3c37e6"/><stop offset="0.5" stop-color="#2a62f6"/><stop offset="1" stop-color="#198bf2"/></linearGradient><linearGradient id="g185" gradientUnits="userSpaceOnUse" x1="136.28" y1="283.73" x2="129.46" y2="273.97"><stop offset="0" stop-color="#31c892"/><stop offset="0.5" stop-color="#6acf60"/><stop offset="1" stop-color="#acd039"/></linearGradient><linearGradient id="g186" gradientUnits="userSpaceOnUse" x1="76.6" y1="279.83" x2="64.78" y2="270.95"><stop offset="0" stop-color="#fcdb21"/><stop offset="0.5" stop-color="#fbe81b"/><stop offset="1" stop-color="#faf215"/></linearGradient><linearGradient id="g187" gradientUnits="userSpaceOnUse" x1="153.25" y1="286.54" x2="147.3" y2="276.6"><stop offset="0" stop-color="#10add9"/><stop offset="0.5" stop-color="#14bdbf"/><stop offset="1" stop-color="#2ec895"/></linearGradient><linearGradient id="g188" gradientUnits="userSpaceOnUse" x1="91.71" y1="281.38" x2="84.56" y2="272.12"><stop offset="0" stop-color="#f9be2e"/><stop offset="0.5" stop-color="#fbcc28"/><stop offset="1" stop-color="#fcdb21"/></linearGradient><linearGradient id="g189" gradientUnits="userSpaceOnUse" x1="168.97" y1="287.88" x2="166.46" y2="280.54"><stop offset="0" stop-color="#1b87f4"/><stop offset="0.5" stop-color="#149cea"/><stop offset="1" stop-color="#10add9"/></linearGradient><linearGradient id="g190" gradientUnits="userSpaceOnUse" x1="108.29" y1="283.45" x2="102.85" y2="273.97"><stop offset="0" stop-color="#d8c82d"/><stop offset="0.5" stop-color="#ebc02f"/><stop offset="1" stop-color="#f9bf2e"/></linearGradient><linearGradient id="g191" gradientUnits="userSpaceOnUse" x1="186.58" y1="293.45" x2="183.73" y2="283.28"><stop offset="0" stop-color="#3c37e6"/><stop offset="0.5" stop-color="#2a61f6"/><stop offset="1" stop-color="#1a88f3"/></linearGradient><linearGradient id="g192" gradientUnits="userSpaceOnUse" x1="126.44" y1="286.31" x2="119.51" y2="276.37"><stop offset="0" stop-color="#50cc76"/><stop offset="0.5" stop-color="#94d144"/><stop offset="1" stop-color="#d6c82d"/></linearGradient><linearGradient id="g193" gradientUnits="userSpaceOnUse" x1="143.17" y1="288.9" x2="137.65" y2="279.25"><stop offset="0" stop-color="#11b4cf"/><stop offset="0.5" stop-color="#21c3a9"/><stop offset="1" stop-color="#4fcc77"/></linearGradient><linearGradient id="g194" gradientUnits="userSpaceOnUse" x1="80.78" y1="284" x2="75.72" y2="275.38"><stop offset="0" stop-color="#fac62b"/><stop offset="0.5" stop-color="#fcd525"/><stop offset="1" stop-color="#fbe41c"/></linearGradient><linearGradient id="g195" gradientUnits="userSpaceOnUse" x1="159.31" y1="290.84" x2="156.33" y2="282.81"><stop offset="0" stop-color="#1b87f4"/><stop offset="0.5" stop-color="#13a0e6"/><stop offset="1" stop-color="#11b4cf"/></linearGradient><linearGradient id="g196" gradientUnits="userSpaceOnUse" x1="98.93" y1="286.16" x2="92.48" y2="276.64"><stop offset="0" stop-color="#e3c32e"/><stop offset="0.5" stop-color="#f4bc30"/><stop offset="1" stop-color="#fac72b"/></linearGradient><linearGradient id="g197" gradientUnits="userSpaceOnUse" x1="176.72" y1="296.23" x2="173.83" y2="286.06"><stop offset="0" stop-color="#3c37e6"/><stop offset="0.5" stop-color="#2a61f6"/><stop offset="1" stop-color="#1a88f3"/></linearGradient><linearGradient id="g198" gradientUnits="userSpaceOnUse" x1="115.74" y1="288.46" x2="110.46" y2="279.05"><stop offset="0" stop-color="#7ad055"/><stop offset="0.5" stop-color="#b7ce36"/><stop offset="1" stop-color="#e4c22e"/></linearGradient><linearGradient id="g199" gradientUnits="userSpaceOnUse" x1="132.88" y1="291.33" x2="128.16" y2="281.88"><stop offset="0" stop-color="#13bac4"/><stop offset="0.5" stop-color="#31c992"/><stop offset="1" stop-color="#72d05b"/></linearGradient><linearGradient id="g200" gradientUnits="userSpaceOnUse" x1="149.5" y1="293.55" x2="146.41" y2="285.42"><stop offset="0" stop-color="#1a8af2"/><stop offset="0.5" stop-color="#12a5e1"/><stop offset="1" stop-color="#13bac4"/></linearGradient><linearGradient id="g201" gradientUnits="userSpaceOnUse" x1="89.45" y1="289" x2="82.19" y2="279.39"><stop offset="0" stop-color="#eebe2f"/><stop offset="0.5" stop-color="#f9bf2e"/><stop offset="1" stop-color="#fbce27"/></linearGradient><linearGradient id="g202" gradientUnits="userSpaceOnUse" x1="166.97" y1="299.12" x2="163.8" y2="288.66"><stop offset="0" stop-color="#3c37e6"/><stop offset="0.5" stop-color="#2962f6"/><stop offset="1" stop-color="#198bf2"/></linearGradient><linearGradient id="g203" gradientUnits="userSpaceOnUse" x1="106.02" y1="291.04" x2="100.44" y2="281.66"><stop offset="0" stop-color="#9fd23c"/><stop offset="0.5" stop-color="#d2c92e"/><stop offset="1" stop-color="#efbe2f"/></linearGradient><linearGradient id="g204" gradientUnits="userSpaceOnUse" x1="123.45" y1="294.02" x2="117.85" y2="284.16"><stop offset="0" stop-color="#1ac0b4"/><stop offset="0.5" stop-color="#4fcc77"/><stop offset="1" stop-color="#9ed23d"/></linearGradient><linearGradient id="g205" gradientUnits="userSpaceOnUse" x1="139.7" y1="296.37" x2="136.43" y2="287.92"><stop offset="0" stop-color="#188ef1"/><stop offset="0.5" stop-color="#10abdb"/><stop offset="1" stop-color="#1ac0b5"/></linearGradient><linearGradient id="g206" gradientUnits="userSpaceOnUse" x1="157.13" y1="301.93" x2="153.9" y2="291.43"><stop offset="0" stop-color="#3c37e6"/><stop offset="0.5" stop-color="#2964f6"/><stop offset="1" stop-color="#188ef1"/></linearGradient><linearGradient id="g207" gradientUnits="userSpaceOnUse" x1="96.36" y1="293.79" x2="90.34" y2="284.23"><stop offset="0" stop-color="#bccd34"/><stop offset="0.5" stop-color="#e1c42e"/><stop offset="1" stop-color="#f8bc2f"/></linearGradient><linearGradient id="g208" gradientUnits="userSpaceOnUse" x1="113.53" y1="296.57" x2="108.02" y2="286.83"><stop offset="0" stop-color="#2cc897"/><stop offset="0.5" stop-color="#70d05c"/><stop offset="1" stop-color="#bccd34"/></linearGradient><linearGradient id="g209" gradientUnits="userSpaceOnUse" x1="130.34" y1="299.41" x2="126.03" y2="290.16"><stop offset="0" stop-color="#1694ee"/><stop offset="0.5" stop-color="#10b3d1"/><stop offset="1" stop-color="#2ac79b"/></linearGradient><linearGradient id="g210" gradientUnits="userSpaceOnUse" x1="147.39" y1="304.81" x2="143.87" y2="294.07"><stop offset="0" stop-color="#3c37e6"/><stop offset="0.5" stop-color="#2767f6"/><stop offset="1" stop-color="#1694ee"/></linearGradient><linearGradient id="g211" gradientUnits="userSpaceOnUse" x1="104.2" y1="299.43" x2="97.59" y2="289.29"><stop offset="0" stop-color="#4fcc77"/><stop offset="0.5" stop-color="#96d143"/><stop offset="1" stop-color="#d9c72d"/></linearGradient><linearGradient id="g212" gradientUnits="userSpaceOnUse" x1="120.66" y1="302.24" x2="115.97" y2="292.76"><stop offset="0" stop-color="#139ee8"/><stop offset="0.5" stop-color="#13bcc2"/><stop offset="1" stop-color="#4acc7c"/></linearGradient><linearGradient id="g213" gradientUnits="userSpaceOnUse" x1="137.65" y1="307.69" x2="133.85" y2="296.73"><stop offset="0" stop-color="#3c37e6"/><stop offset="0.5" stop-color="#256cf7"/><stop offset="1" stop-color="#149cea"/></linearGradient><linearGradient id="g214" gradientUnits="userSpaceOnUse" x1="111.09" y1="305.18" x2="105.77" y2="295.3"><stop offset="0" stop-color="#11a8de"/><stop offset="0.5" stop-color="#22c4a7"/><stop offset="1" stop-color="#74d059"/></linearGradient><linearGradient id="g215" gradientUnits="userSpaceOnUse" x1="127.89" y1="310.54" x2="123.87" y2="299.47"><stop offset="0" stop-color="#3c37e6"/><stop offset="0.5" stop-color="#2273f7"/><stop offset="1" stop-color="#11a6e0"/></linearGradient><linearGradient id="g216" gradientUnits="userSpaceOnUse" x1="118.05" y1="313.36" x2="113.95" y2="302.25"><stop offset="0" stop-color="#3c37e6"/><stop offset="0.5" stop-color="#1f7cf8"/><stop offset="1" stop-color="#10b2d2"/></linearGradient><linearGradient id="g217" gradientUnits="userSpaceOnUse" x1="466.09" y1="245.63" x2="458.13" y2="236.36"><stop offset="0" stop-color="#9dd23e"/><stop offset="0.5" stop-color="#b3ce37"/><stop offset="1" stop-color="#c9cb31"/></linearGradient><linearGradient id="g218" gradientUnits="userSpaceOnUse" x1="458.11" y1="248.29" x2="446.26" y2="239.17"><stop offset="0" stop-color="#acd039"/><stop offset="0.5" stop-color="#c5cb32"/><stop offset="1" stop-color="#dbc62d"/></linearGradient><linearGradient id="g219" gradientUnits="userSpaceOnUse" x1="472.62" y1="249.36" x2="466.84" y2="240.68"><stop offset="0" stop-color="#76d058"/><stop offset="0.5" stop-color="#92d146"/><stop offset="1" stop-color="#acd039"/></linearGradient><linearGradient id="g220" gradientUnits="userSpaceOnUse" x1="451.07" y1="246.39" x2="433.47" y2="245.47"><stop offset="0" stop-color="#c2cc33"/><stop offset="0.5" stop-color="#ddc62e"/><stop offset="1" stop-color="#eebe2f"/></linearGradient><linearGradient id="g221" gradientUnits="userSpaceOnUse" x1="463.94" y1="252.44" x2="455.68" y2="242.92"><stop offset="0" stop-color="#86d14e"/><stop offset="0.5" stop-color="#a5d13b"/><stop offset="1" stop-color="#c2cc33"/></linearGradient><linearGradient id="g222" gradientUnits="userSpaceOnUse" x1="480.48" y1="253.77" x2="474.26" y2="244.58"><stop offset="0" stop-color="#52cd75"/><stop offset="0.5" stop-color="#6acf60"/><stop offset="1" stop-color="#86d14e"/></linearGradient><linearGradient id="g223" gradientUnits="userSpaceOnUse" x1="440.38" y1="245.96" x2="424.35" y2="249.93"><stop offset="0" stop-color="#e0c42e"/><stop offset="0.5" stop-color="#f0bd2f"/><stop offset="1" stop-color="#f9c32c"/></linearGradient><linearGradient id="g224" gradientUnits="userSpaceOnUse" x1="457.82" y1="252.95" x2="441.97" y2="246.82"><stop offset="0" stop-color="#9ed23e"/><stop offset="0.5" stop-color="#c2cc33"/><stop offset="1" stop-color="#dfc52e"/></linearGradient><linearGradient id="g225" gradientUnits="userSpaceOnUse" x1="471.93" y1="256.65" x2="462.97" y2="246.83"><stop offset="0" stop-color="#5fce69"/><stop offset="0.5" stop-color="#7ed053"/><stop offset="1" stop-color="#9dd23e"/></linearGradient><linearGradient id="g226" gradientUnits="userSpaceOnUse" x1="487.72" y1="258.49" x2="482.29" y2="249.19"><stop offset="0" stop-color="#2bc798"/><stop offset="0.5" stop-color="#45cb81"/><stop offset="1" stop-color="#5fce69"/></linearGradient><linearGradient id="g227" gradientUnits="userSpaceOnUse" x1="430.72" y1="248.34" x2="414.18" y2="251.48"><stop offset="0" stop-color="#f7ba30"/><stop offset="0.5" stop-color="#f9c22c"/><stop offset="1" stop-color="#facb29"/></linearGradient><linearGradient id="g228" gradientUnits="userSpaceOnUse" x1="448.44" y1="250.68" x2="431.54" y2="253.17"><stop offset="0" stop-color="#c4cc32"/><stop offset="0.5" stop-color="#e1c42e"/><stop offset="1" stop-color="#f6bb30"/></linearGradient><linearGradient id="g229" gradientUnits="userSpaceOnUse" x1="465.63" y1="256.85" x2="449.44" y2="250.98"><stop offset="0" stop-color="#76d058"/><stop offset="0.5" stop-color="#9ed23e"/><stop offset="1" stop-color="#c2cc33"/></linearGradient><linearGradient id="g230" gradientUnits="userSpaceOnUse" x1="478.85" y1="261.27" x2="471.32" y2="251.23"><stop offset="0" stop-color="#37c98c"/><stop offset="0.5" stop-color="#55cd72"/><stop offset="1" stop-color="#76d058"/></linearGradient><linearGradient id="g231" gradientUnits="userSpaceOnUse" x1="418.88" y1="248.39" x2="406.21" y2="255.14"><stop offset="0" stop-color="#fac62b"/><stop offset="0.5" stop-color="#facb29"/><stop offset="1" stop-color="#fbd126"/></linearGradient><linearGradient id="g232" gradientUnits="userSpaceOnUse" x1="494.8" y1="263.51" x2="490.46" y2="254.38"><stop offset="0" stop-color="#13bbc3"/><stop offset="0.5" stop-color="#21c3a9"/><stop offset="1" stop-color="#37c98d"/></linearGradient><linearGradient id="g233" gradientUnits="userSpaceOnUse" x1="437.7" y1="251.4" x2="422.47" y2="256.45"><stop offset="0" stop-color="#e8c12f"/><stop offset="0.5" stop-color="#f7ba30"/><stop offset="1" stop-color="#fac82a"/></linearGradient><linearGradient id="g234" gradientUnits="userSpaceOnUse" x1="456.2" y1="255.11" x2="439.04" y2="256.79"><stop offset="0" stop-color="#9ed23e"/><stop offset="0.5" stop-color="#c9cb31"/><stop offset="1" stop-color="#e6c22e"/></linearGradient><linearGradient id="g235" gradientUnits="userSpaceOnUse" x1="470.75" y1="263.28" x2="459.58" y2="253.43"><stop offset="0" stop-color="#4acc7c"/><stop offset="0.5" stop-color="#70d05c"/><stop offset="1" stop-color="#9cd23f"/></linearGradient><linearGradient id="g236" gradientUnits="userSpaceOnUse" x1="408.24" y1="249.97" x2="397.02" y2="257.43"><stop offset="0" stop-color="#fbcc28"/><stop offset="0.5" stop-color="#fcd524"/><stop offset="1" stop-color="#fbdf1f"/></linearGradient><linearGradient id="g237" gradientUnits="userSpaceOnUse" x1="484.92" y1="265.88" x2="480.49" y2="256.56"><stop offset="0" stop-color="#15bfbc"/><stop offset="0.5" stop-color="#29c69d"/><stop offset="1" stop-color="#4acc7c"/></linearGradient><linearGradient id="g238" gradientUnits="userSpaceOnUse" x1="428.12" y1="258.97" x2="412.2" y2="252.69"><stop offset="0" stop-color="#f9bf2e"/><stop offset="0.5" stop-color="#fac62b"/><stop offset="1" stop-color="#fbcd28"/></linearGradient><linearGradient id="g239" gradientUnits="userSpaceOnUse" x1="501.94" y1="268.71" x2="498.56" y2="260.01"><stop offset="0" stop-color="#11a8de"/><stop offset="0.5" stop-color="#11b4cf"/><stop offset="1" stop-color="#16bfbc"/></linearGradient><linearGradient id="g240" gradientUnits="userSpaceOnUse" x1="446.17" y1="256.8" x2="429.25" y2="259.13"><stop offset="0" stop-color="#d2c92e"/><stop offset="0.5" stop-color="#e9c02f"/><stop offset="1" stop-color="#f9bf2e"/></linearGradient><linearGradient id="g241" gradientUnits="userSpaceOnUse" x1="462.52" y1="264.37" x2="447.99" y2="256.32"><stop offset="0" stop-color="#64cf64"/><stop offset="0.5" stop-color="#9cd23f"/><stop offset="1" stop-color="#ceca2f"/></linearGradient><linearGradient id="g242" gradientUnits="userSpaceOnUse" x1="399.97" y1="253.01" x2="385.46" y2="258.73"><stop offset="0" stop-color="#fcd723"/><stop offset="0.5" stop-color="#fbe61c"/><stop offset="1" stop-color="#faf215"/></linearGradient><linearGradient id="g243" gradientUnits="userSpaceOnUse" x1="476.13" y1="268.37" x2="469.45" y2="258.12"><stop offset="0" stop-color="#1ec2af"/><stop offset="0.5" stop-color="#3bca89"/><stop offset="1" stop-color="#66cf63"/></linearGradient><linearGradient id="g244" gradientUnits="userSpaceOnUse" x1="418.27" y1="260.78" x2="402.24" y2="254.83"><stop offset="0" stop-color="#fac52b"/><stop offset="0.5" stop-color="#fbce27"/><stop offset="1" stop-color="#fcd723"/></linearGradient><linearGradient id="g245" gradientUnits="userSpaceOnUse" x1="492.15" y1="271.08" x2="488.5" y2="262.03"><stop offset="0" stop-color="#10abdb"/><stop offset="0.5" stop-color="#12b8c8"/><stop offset="1" stop-color="#1ec2af"/></linearGradient><linearGradient id="g246" gradientUnits="userSpaceOnUse" x1="435.85" y1="262.95" x2="419.75" y2="256.83"><stop offset="0" stop-color="#f0be2f"/><stop offset="0.5" stop-color="#f8bd2f"/><stop offset="1" stop-color="#fac82a"/></linearGradient><linearGradient id="g247" gradientUnits="userSpaceOnUse" x1="509.16" y1="275.66" x2="506.59" y2="266.23"><stop offset="0" stop-color="#1b87f4"/><stop offset="0.5" stop-color="#149beb"/><stop offset="1" stop-color="#10abdb"/></linearGradient><linearGradient id="g248" gradientUnits="userSpaceOnUse" x1="452.65" y1="266.29" x2="438.04" y2="258.34"><stop offset="0" stop-color="#96d143"/><stop offset="0.5" stop-color="#cdca30"/><stop offset="1" stop-color="#eebe2f"/></linearGradient><linearGradient id="g249" gradientUnits="userSpaceOnUse" x1="390.88" y1="260.96" x2="374.74" y2="255.03"><stop offset="0" stop-color="#fbe81b"/><stop offset="0.5" stop-color="#faf314"/><stop offset="1" stop-color="#fafa0e"/></linearGradient><linearGradient id="g250" gradientUnits="userSpaceOnUse" x1="467.55" y1="270.43" x2="458.22" y2="259.95"><stop offset="0" stop-color="#2bc79a"/><stop offset="0.5" stop-color="#5ace6d"/><stop offset="1" stop-color="#94d144"/></linearGradient><linearGradient id="g251" gradientUnits="userSpaceOnUse" x1="408.38" y1="262.91" x2="392.31" y2="257.04"><stop offset="0" stop-color="#fbcc28"/><stop offset="0.5" stop-color="#fcd922"/><stop offset="1" stop-color="#fbe81b"/></linearGradient><linearGradient id="g252" gradientUnits="userSpaceOnUse" x1="483.33" y1="273.71" x2="477.5" y2="263.46"><stop offset="0" stop-color="#0fb0d6"/><stop offset="0.5" stop-color="#14bebe"/><stop offset="1" stop-color="#2bc79a"/></linearGradient><linearGradient id="g253" gradientUnits="userSpaceOnUse" x1="425.96" y1="264.82" x2="409.83" y2="258.94"><stop offset="0" stop-color="#f9bf2e"/><stop offset="0.5" stop-color="#fac62b"/><stop offset="1" stop-color="#fbcd28"/></linearGradient><linearGradient id="g254" gradientUnits="userSpaceOnUse" x1="499.69" y1="278.25" x2="496.23" y2="268"><stop offset="0" stop-color="#1b87f3"/><stop offset="0.5" stop-color="#139ee8"/><stop offset="1" stop-color="#0fb0d6"/></linearGradient><linearGradient id="g255" gradientUnits="userSpaceOnUse" x1="441.01" y1="269.16" x2="429.86" y2="259.28"><stop offset="0" stop-color="#cdca30"/><stop offset="0.5" stop-color="#e8c12f"/><stop offset="1" stop-color="#f9c02d"/></linearGradient><linearGradient id="g256" gradientUnits="userSpaceOnUse" x1="516.98" y1="286.28" x2="514.02" y2="274.1"><stop offset="0" stop-color="#3c37e6"/><stop offset="0.5" stop-color="#2a61f6"/><stop offset="1" stop-color="#1a89f3"/></linearGradient><linearGradient id="g257" gradientUnits="userSpaceOnUse" x1="458.05" y1="272.31" x2="447.9" y2="261.94"><stop offset="0" stop-color="#4acc7c"/><stop offset="0.5" stop-color="#88d14c"/><stop offset="1" stop-color="#c7cb31"/></linearGradient><linearGradient id="g258" gradientUnits="userSpaceOnUse" x1="396.18" y1="266.81" x2="384.69" y2="257.41"><stop offset="0" stop-color="#fcd823"/><stop offset="0.5" stop-color="#fbe71b"/><stop offset="1" stop-color="#faf214"/></linearGradient><linearGradient id="g259" gradientUnits="userSpaceOnUse" x1="473.39" y1="275.7" x2="467.61" y2="265.4"><stop offset="0" stop-color="#11b6cc"/><stop offset="0.5" stop-color="#21c3a9"/><stop offset="1" stop-color="#48cb7d"/></linearGradient><linearGradient id="g260" gradientUnits="userSpaceOnUse" x1="416.04" y1="266.95" x2="399.93" y2="261.12"><stop offset="0" stop-color="#fac52b"/><stop offset="0.5" stop-color="#fbce27"/><stop offset="1" stop-color="#fcd723"/></linearGradient><linearGradient id="g261" gradientUnits="userSpaceOnUse" x1="489.93" y1="280.48" x2="486.16" y2="269.94"><stop offset="0" stop-color="#1a8af2"/><stop offset="0.5" stop-color="#12a2e4"/><stop offset="1" stop-color="#11b6cc"/></linearGradient><linearGradient id="g262" gradientUnits="userSpaceOnUse" x1="429.97" y1="271.2" x2="421.09" y2="261.16"><stop offset="0" stop-color="#e8c12f"/><stop offset="0.5" stop-color="#f7ba30"/><stop offset="1" stop-color="#fac82a"/></linearGradient><linearGradient id="g263" gradientUnits="userSpaceOnUse" x1="507.27" y1="288.83" x2="503.85" y2="276.12"><stop offset="0" stop-color="#3c37e6"/><stop offset="0.5" stop-color="#2963f6"/><stop offset="1" stop-color="#198bf2"/></linearGradient><linearGradient id="g264" gradientUnits="userSpaceOnUse" x1="447.26" y1="274.26" x2="438.86" y2="263.73"><stop offset="0" stop-color="#76d058"/><stop offset="0.5" stop-color="#b7ce36"/><stop offset="1" stop-color="#e6c22e"/></linearGradient><linearGradient id="g265" gradientUnits="userSpaceOnUse" x1="464.26" y1="277.89" x2="456.92" y2="267.14"><stop offset="0" stop-color="#14bdc0"/><stop offset="0.5" stop-color="#36c98e"/><stop offset="1" stop-color="#74d059"/></linearGradient><linearGradient id="g266" gradientUnits="userSpaceOnUse" x1="403.4" y1="270.96" x2="392.74" y2="261.37"><stop offset="0" stop-color="#fbcc28"/><stop offset="0.5" stop-color="#fcd723"/><stop offset="1" stop-color="#fbe41d"/></linearGradient><linearGradient id="g267" gradientUnits="userSpaceOnUse" x1="480.19" y1="282.67" x2="476.08" y2="271.85"><stop offset="0" stop-color="#188ef1"/><stop offset="0.5" stop-color="#11a8de"/><stop offset="1" stop-color="#14bdc0"/></linearGradient><linearGradient id="g268" gradientUnits="userSpaceOnUse" x1="419.06" y1="273.15" x2="412.18" y2="263.39"><stop offset="0" stop-color="#f5bb30"/><stop offset="0.5" stop-color="#f9c22d"/><stop offset="1" stop-color="#fbcd28"/></linearGradient><linearGradient id="g269" gradientUnits="userSpaceOnUse" x1="497.4" y1="291.37" x2="493.9" y2="278.25"><stop offset="0" stop-color="#3c37e6"/><stop offset="0.5" stop-color="#2865f6"/><stop offset="1" stop-color="#188ff0"/></linearGradient><linearGradient id="g270" gradientUnits="userSpaceOnUse" x1="436.31" y1="275.95" x2="430" y2="265.88"><stop offset="0" stop-color="#a7d13a"/><stop offset="0.5" stop-color="#dac72d"/><stop offset="1" stop-color="#f6bb30"/></linearGradient><linearGradient id="g271" gradientUnits="userSpaceOnUse" x1="454.03" y1="279.79" x2="447.32" y2="269.06"><stop offset="0" stop-color="#24c4a5"/><stop offset="0.5" stop-color="#5ace6d"/><stop offset="1" stop-color="#a3d13b"/></linearGradient><linearGradient id="g272" gradientUnits="userSpaceOnUse" x1="470.99" y1="285.09" x2="465.45" y2="273.52"><stop offset="0" stop-color="#1694ee"/><stop offset="0.5" stop-color="#0fb0d5"/><stop offset="1" stop-color="#23c4a6"/></linearGradient><linearGradient id="g273" gradientUnits="userSpaceOnUse" x1="409.03" y1="275.19" x2="402.39" y2="265.47"><stop offset="0" stop-color="#f9bf2e"/><stop offset="0.5" stop-color="#fac929"/><stop offset="1" stop-color="#fcd525"/></linearGradient><linearGradient id="g274" gradientUnits="userSpaceOnUse" x1="487.78" y1="294.06" x2="483.69" y2="280.23"><stop offset="0" stop-color="#3c37e6"/><stop offset="0.5" stop-color="#2768f6"/><stop offset="1" stop-color="#1694ee"/></linearGradient><linearGradient id="g275" gradientUnits="userSpaceOnUse" x1="425.6" y1="277.63" x2="420.89" y2="268.25"><stop offset="0" stop-color="#ccca30"/><stop offset="0.5" stop-color="#e8c12f"/><stop offset="1" stop-color="#f9c02d"/></linearGradient><linearGradient id="g276" gradientUnits="userSpaceOnUse" x1="443.79" y1="281.64" x2="437.75" y2="271.12"><stop offset="0" stop-color="#3eca86"/><stop offset="0.5" stop-color="#82d050"/><stop offset="1" stop-color="#c9cb31"/></linearGradient><linearGradient id="g277" gradientUnits="userSpaceOnUse" x1="460.85" y1="287.06" x2="455.77" y2="275.58"><stop offset="0" stop-color="#149de9"/><stop offset="0.5" stop-color="#12b9c6"/><stop offset="1" stop-color="#3bca89"/></linearGradient><linearGradient id="g278" gradientUnits="userSpaceOnUse" x1="478.15" y1="296.71" x2="473.5" y2="282.24"><stop offset="0" stop-color="#3c37e6"/><stop offset="0.5" stop-color="#256df7"/><stop offset="1" stop-color="#149de9"/></linearGradient><linearGradient id="g279" gradientUnits="userSpaceOnUse" x1="415.62" y1="279.6" x2="411.05" y2="270.28"><stop offset="0" stop-color="#e0c42e"/><stop offset="0.5" stop-color="#f2bc2f"/><stop offset="1" stop-color="#fac72b"/></linearGradient><linearGradient id="g280" gradientUnits="userSpaceOnUse" x1="434.2" y1="283.76" x2="427.53" y2="273.05"><stop offset="0" stop-color="#62cf66"/><stop offset="0.5" stop-color="#a9d03a"/><stop offset="1" stop-color="#e1c42e"/></linearGradient><linearGradient id="g281" gradientUnits="userSpaceOnUse" x1="451.12" y1="289.19" x2="445.69" y2="277.55"><stop offset="0" stop-color="#11a6e0"/><stop offset="0.5" stop-color="#1bc1b3"/><stop offset="1" stop-color="#5dce6a"/></linearGradient><linearGradient id="g282" gradientUnits="userSpaceOnUse" x1="468.24" y1="299.23" x2="463.59" y2="284.35"><stop offset="0" stop-color="#3c37e6"/><stop offset="0.5" stop-color="#2273f7"/><stop offset="1" stop-color="#12a5e1"/></linearGradient><linearGradient id="g283" gradientUnits="userSpaceOnUse" x1="424.73" y1="285.89" x2="417.17" y2="274.93"><stop offset="0" stop-color="#94d144"/><stop offset="0.5" stop-color="#cbca30"/><stop offset="1" stop-color="#edbf2f"/></linearGradient><linearGradient id="g284" gradientUnits="userSpaceOnUse" x1="441.62" y1="291.43" x2="435.36" y2="279.48"><stop offset="0" stop-color="#0fb0d6"/><stop offset="0.5" stop-color="#2dc897"/><stop offset="1" stop-color="#8cd149"/></linearGradient><linearGradient id="g285" gradientUnits="userSpaceOnUse" x1="458.59" y1="301.86" x2="453.42" y2="286.41"><stop offset="0" stop-color="#3c37e6"/><stop offset="0.5" stop-color="#1f7af8"/><stop offset="1" stop-color="#0fafd7"/></linearGradient><linearGradient id="g286" gradientUnits="userSpaceOnUse" x1="431.6" y1="293.5" x2="425.56" y2="281.55"><stop offset="0" stop-color="#13bbc3"/><stop offset="0.5" stop-color="#50cd76"/><stop offset="1" stop-color="#b9cd35"/></linearGradient><linearGradient id="g287" gradientUnits="userSpaceOnUse" x1="449.1" y1="304.52" x2="443.08" y2="288.45"><stop offset="0" stop-color="#3c37e6"/><stop offset="0.5" stop-color="#1c82f6"/><stop offset="1" stop-color="#13bac5"/></linearGradient><linearGradient id="g288" gradientUnits="userSpaceOnUse" x1="439.16" y1="307.03" x2="433.2" y2="290.61"><stop offset="0" stop-color="#3c38e6"/><stop offset="0.5" stop-color="#198cf1"/><stop offset="1" stop-color="#1fc2ad"/></linearGradient></defs>
<rect width="550" height="412" fill="#fff"/>
<path d="M46.94,115.4L46.94,32.4M56.83,112.5L56.83,29.5M66.72,109.6L66.72,26.6M76.61,106.7L76.61,23.7M86.5,103.8L86.5,20.8M96.39,100.9L96.39,17.9M106.28,98L106.28,15M116.17,95.1L116.17,12.1M126.06,92.2L126.06,9.2M37.05,97.55L135.95,68.55M37.05,76.8L135.95,47.8M37.05,56.05L135.95,27.05M203.81,123.5L203.81,40.5M196.27,119.7L196.27,36.7M188.73,115.9L188.73,32.9M181.19,112.1L181.19,29.1M173.65,108.3L173.65,25.3M166.11,104.5L166.11,21.5M158.57,100.7L158.57,17.7M151.03,96.9L151.03,13.9M143.49,93.1L143.49,10.1M211.35,106.55L135.95,68.55M211.35,85.8L135.95,47.8M211.35,65.05L135.95,27.05M122.34,153.4L46.94,115.4M132.23,150.5L56.83,112.5M142.12,147.6L66.72,109.6M152.01,144.7L76.61,106.7M161.9,141.8L86.5,103.8M171.79,138.9L96.39,100.9M181.68,136L106.28,98M191.57,133.1L116.17,95.1M201.46,130.2L126.06,92.2M104.91,152.5L203.81,123.5M97.37,148.7L196.27,119.7M89.83,144.9L188.73,115.9M82.29,141.1L181.19,112.1M74.75,137.3L173.65,108.3M67.21,133.5L166.11,104.5M59.67,129.7L158.57,100.7M52.13,125.9L151.03,96.9M44.59,122.1L143.49,93.1" stroke="#eaeaea" stroke-width="0.9" fill="none"/><path d="M37.05,118.3L37.05,35.3L135.95,6.3L211.35,44.3M135.95,6.3L135.95,89.3M211.35,44.3L211.35,127.3M37.05,118.3L135.95,89.3L211.35,127.3" stroke="#555" stroke-width="1" fill="none" stroke-linejoin="miter"/><g stroke="#858585" stroke-width="0.9" stroke-linejoin="round"><polygon points="141.14,43.51 151.03,40.13 143.49,40.06 133.6,40.14" fill="url(#g1)"/><polygon points="131.25,47.14 141.14,43.51 133.6,40.14 123.71,46.53" fill="url(#g2)"/><polygon points="148.68,49.86 158.57,45.8 151.03,40.13 141.14,43.51" fill="url(#g3)"/><polygon points="121.36,50.63 131.25,47.14 123.71,46.53 113.82,47.52" fill="url(#g4)"/><polygon points="138.79,52.88 148.68,49.86 141.14,43.51 131.25,47.14" fill="url(#g5)"/><polygon points="156.22,54.3 166.11,49.11 158.57,45.8 148.68,49.86" fill="url(#g6)"/><polygon points="111.47,53.53 121.36,50.63 113.82,47.52 103.93,48.43" fill="url(#g7)"/><polygon points="128.9,56.23 138.79,52.88 131.25,47.14 121.36,50.63" fill="url(#g8)"/><polygon points="146.33,58.32 156.22,54.3 148.68,49.86 138.79,52.88" fill="url(#g9)"/><polygon points="163.76,58.52 173.65,54.33 166.11,49.11 156.22,54.3" fill="url(#g10)"/><polygon points="101.58,56.13 111.47,53.53 103.93,48.43 94.04,51.49" fill="url(#g11)"/><polygon points="119.01,60.32 128.9,56.23 121.36,50.63 111.47,53.53" fill="url(#g12)"/><polygon points="136.44,61.51 146.33,58.32 138.79,52.88 128.9,56.23" fill="url(#g13)"/><polygon points="153.87,62.41 163.76,58.52 156.22,54.3 146.33,58.32" fill="url(#g14)"/><polygon points="91.69,58.89 101.58,56.13 94.04,51.49 84.15,56.55" fill="url(#g15)"/><polygon points="171.3,63.07 181.19,59.05 173.65,54.33 163.76,58.52" fill="url(#g16)"/><polygon points="109.12,62.33 119.01,60.32 111.47,53.53 101.58,56.13" fill="url(#g17)"/><polygon points="126.55,65.57 136.44,61.51 128.9,56.23 119.01,60.32" fill="url(#g18)"/><polygon points="143.98,65.31 153.87,62.41 146.33,58.32 136.44,61.51" fill="url(#g19)"/><polygon points="81.8,61.2 91.69,58.89 84.15,56.55 74.26,58.04" fill="url(#g20)"/><polygon points="161.41,67.08 171.3,63.07 163.76,58.52 153.87,62.41" fill="url(#g21)"/><polygon points="99.23,63.28 109.12,62.33 101.58,56.13 91.69,58.89" fill="url(#g22)"/><polygon points="178.84,68.21 188.73,64.41 181.19,59.05 171.3,63.07" fill="url(#g23)"/><polygon points="116.66,67.9 126.55,65.57 119.01,60.32 109.12,62.33" fill="url(#g24)"/><polygon points="134.09,68.51 143.98,65.31 136.44,61.51 126.55,65.57" fill="url(#g25)"/><polygon points="71.91,63.66 81.8,61.2 74.26,58.04 64.37,60.03" fill="url(#g26)"/><polygon points="151.52,70.13 161.41,67.08 153.87,62.41 143.98,65.31" fill="url(#g27)"/><polygon points="89.34,65.44 99.23,63.28 91.69,58.89 81.8,61.2" fill="url(#g28)"/><polygon points="168.95,72 178.84,68.21 171.3,63.07 161.41,67.08" fill="url(#g29)"/><polygon points="106.77,68.13 116.66,67.9 109.12,62.33 99.23,63.28" fill="url(#g30)"/><polygon points="186.38,73.69 196.27,69.37 188.73,64.41 178.84,68.21" fill="url(#g31)"/><polygon points="124.2,70.82 134.09,68.51 126.55,65.57 116.66,67.9" fill="url(#g32)"/><polygon points="62.02,66.28 71.91,63.66 64.37,60.03 54.48,62.34" fill="url(#g33)"/><polygon points="141.63,73.17 151.52,70.13 143.98,65.31 134.09,68.51" fill="url(#g34)"/><polygon points="79.45,67.9 89.34,65.44 81.8,61.2 71.91,63.66" fill="url(#g35)"/><polygon points="159.06,75.18 168.95,72 161.41,67.08 151.52,70.13" fill="url(#g36)"/><polygon points="96.88,69.68 106.77,68.13 99.23,63.28 89.34,65.44" fill="url(#g37)"/><polygon points="176.49,77.76 186.38,73.69 178.84,68.21 168.95,72" fill="url(#g38)"/><polygon points="114.31,72.23 124.2,70.82 116.66,67.9 106.77,68.13" fill="url(#g39)"/><polygon points="193.92,81.23 203.81,77.6 196.27,69.37 186.38,73.69" fill="url(#g40)"/><polygon points="131.74,75.78 141.63,73.17 134.09,68.51 124.2,70.82" fill="url(#g41)"/><polygon points="69.56,70.51 79.45,67.9 71.91,63.66 62.02,66.28" fill="url(#g42)"/><polygon points="149.17,78.08 159.06,75.18 151.52,70.13 141.63,73.17" fill="url(#g43)"/><polygon points="86.99,72.29 96.88,69.68 89.34,65.44 79.45,67.9" fill="url(#g44)"/><polygon points="166.6,80.66 176.49,77.76 168.95,72 159.06,75.18" fill="url(#g45)"/><polygon points="104.42,73.93 114.31,72.23 106.77,68.13 96.88,69.68" fill="url(#g46)"/><polygon points="184.03,84.75 193.92,81.23 186.38,73.69 176.49,77.76" fill="url(#g47)"/><polygon points="121.85,77.67 131.74,75.78 124.2,70.82 114.31,72.23" fill="url(#g48)"/><polygon points="139.28,80.7 149.17,78.08 141.63,73.17 131.74,75.78" fill="url(#g49)"/><polygon points="77.1,74.89 86.99,72.29 79.45,67.9 69.56,70.51" fill="url(#g50)"/><polygon points="156.71,83.56 166.6,80.66 159.06,75.18 149.17,78.08" fill="url(#g51)"/><polygon points="94.53,76.53 104.42,73.93 96.88,69.68 86.99,72.29" fill="url(#g52)"/><polygon points="174.14,87.65 184.03,84.75 176.49,77.76 166.6,80.66" fill="url(#g53)"/><polygon points="111.96,79.23 121.85,77.67 114.31,72.23 104.42,73.93" fill="url(#g54)"/><polygon points="129.39,83.19 139.28,80.7 131.74,75.78 121.85,77.67" fill="url(#g55)"/><polygon points="146.82,86.33 156.71,83.56 149.17,78.08 139.28,80.7" fill="url(#g56)"/><polygon points="84.64,79.28 94.53,76.53 86.99,72.29 77.1,74.89" fill="url(#g57)"/><polygon points="164.25,90.55 174.14,87.65 166.6,80.66 156.71,83.56" fill="url(#g58)"/><polygon points="102.07,81.38 111.96,79.23 104.42,73.93 94.53,76.53" fill="url(#g59)"/><polygon points="119.5,85.38 129.39,83.19 121.85,77.67 111.96,79.23" fill="url(#g60)"/><polygon points="136.93,89.11 146.82,86.33 139.28,80.7 129.39,83.19" fill="url(#g61)"/><polygon points="154.36,93.45 164.25,90.55 156.71,83.56 146.82,86.33" fill="url(#g62)"/><polygon points="92.18,83.98 102.07,81.38 94.53,76.53 84.64,79.28" fill="url(#g63)"/><polygon points="109.61,87.41 119.5,85.38 111.96,79.23 102.07,81.38" fill="url(#g64)"/><polygon points="127.04,91.63 136.93,89.11 129.39,83.19 119.5,85.38" fill="url(#g65)"/><polygon points="144.47,96.35 154.36,93.45 146.82,86.33 136.93,89.11" fill="url(#g66)"/><polygon points="99.72,89.58 109.61,87.41 102.07,81.38 92.18,83.98" fill="url(#g67)"/><polygon points="117.15,94.01 127.04,91.63 119.5,85.38 109.61,87.41" fill="url(#g68)"/><polygon points="134.58,99.25 144.47,96.35 136.93,89.11 127.04,91.63" fill="url(#g69)"/><polygon points="107.26,96.38 117.15,94.01 109.61,87.41 99.72,89.58" fill="url(#g70)"/><polygon points="124.69,102.05 134.58,99.25 127.04,91.63 117.15,94.01" fill="url(#g71)"/><polygon points="114.8,104.85 124.69,102.05 117.15,94.01 107.26,96.38" fill="url(#g72)"/></g><path d="M37.05,118.3L112.45,156.3L211.35,127.3M37.05,118.3L34.73,117.13M37.05,97.55L34.73,96.38M37.05,76.8L34.73,75.63M37.05,56.05L34.73,54.88M37.05,35.3L34.73,34.13M122.34,153.4L124.66,154.57M132.23,150.5L134.55,151.67M142.12,147.6L144.44,148.77M152.01,144.7L154.33,145.87M161.9,141.8L164.22,142.97M171.79,138.9L174.11,140.07M181.68,136L184,137.17M191.57,133.1L193.89,134.27M201.46,130.2L203.78,131.37M211.35,127.3L213.67,128.47M104.91,152.5L102.42,153.23M97.37,148.7L94.88,149.43M89.83,144.9L87.34,145.63M82.29,141.1L79.8,141.83M74.75,137.3L72.26,138.03M67.21,133.5L64.72,134.23M59.67,129.7L57.18,130.43M52.13,125.9L49.64,126.63M44.59,122.1L42.1,122.83" stroke="#555" stroke-width="1" fill="none"/><g fill="#000" stroke="#000" stroke-width="0.1"><text transform="translate(33.55 120.59) scale(1 1.08)" font-size="9.8" text-anchor="end">0</text><text transform="translate(33.55 99.84) scale(1 1.08)" font-size="9.8" text-anchor="end">0.25</text><text transform="translate(33.55 79.09) scale(1 1.08)" font-size="9.8" text-anchor="end">0.5</text><text transform="translate(33.55 58.34) scale(1 1.08)" font-size="9.8" text-anchor="end">0.75</text><text transform="translate(33.55 37.59) scale(1 1.08)" font-size="9.8" text-anchor="end">1</text><text transform="translate(126.24 165.29) scale(1 1.08)" font-size="9.8">1</text><text transform="translate(136.13 162.39) scale(1 1.08)" font-size="9.8">2</text><text transform="translate(146.02 159.49) scale(1 1.08)" font-size="9.8">3</text><text transform="translate(155.91 156.59) scale(1 1.08)" font-size="9.8">4</text><text transform="translate(165.8 153.69) scale(1 1.08)" font-size="9.8">5</text><text transform="translate(175.69 150.79) scale(1 1.08)" font-size="9.8">6</text><text transform="translate(185.58 147.89) scale(1 1.08)" font-size="9.8">7</text><text transform="translate(195.47 144.99) scale(1 1.08)" font-size="9.8">8</text><text transform="translate(205.36 142.09) scale(1 1.08)" font-size="9.8">9</text><text transform="translate(215.25 139.19) scale(1 1.08)" font-size="9.8">10</text><text transform="translate(101.31 163.29) scale(1 1.08)" font-size="9.8" text-anchor="end">2</text><text transform="translate(93.77 159.49) scale(1 1.08)" font-size="9.8" text-anchor="end">3</text><text transform="translate(86.23 155.69) scale(1 1.08)" font-size="9.8" text-anchor="end">4</text><text transform="translate(78.69 151.89) scale(1 1.08)" font-size="9.8" text-anchor="end">5</text><text transform="translate(71.15 148.09) scale(1 1.08)" font-size="9.8" text-anchor="end">6</text><text transform="translate(63.61 144.29) scale(1 1.08)" font-size="9.8" text-anchor="end">7</text><text transform="translate(56.07 140.49) scale(1 1.08)" font-size="9.8" text-anchor="end">8</text><text transform="translate(48.53 136.69) scale(1 1.08)" font-size="9.8" text-anchor="end">9</text><text transform="translate(40.99 132.89) scale(1 1.08)" font-size="9.8" text-anchor="end">10</text><text transform="translate(14 76.6) scale(1 1.08) rotate(-90)" font-size="9.8" text-anchor="middle">BE value</text><text transform="translate(46.7 163) scale(1 1.08) rotate(26.75)" font-size="11" text-anchor="middle" font-style="italic">m</text><text transform="translate(185 166.5) scale(1 1.08) rotate(-16.34)" font-size="10" text-anchor="middle">Scale factor</text></g><path d="M370.3,116.06L370.3,33.06M380,113.12L380,30.12M389.7,110.18L389.7,27.18M399.4,107.24L399.4,24.24M409.1,104.3L409.1,21.3M418.8,101.36L418.8,18.36M428.5,98.42L428.5,15.42M438.2,95.48L438.2,12.48M447.9,92.54L447.9,9.54M360.6,98.25L457.6,68.85M360.6,77.5L457.6,48.1M360.6,56.75L457.6,27.35M523.64,123.64L523.64,40.64M515.39,119.39L515.39,36.39M507.13,115.13L507.13,32.13M498.88,110.88L498.88,27.88M490.62,106.62L490.62,23.62M482.37,102.37L482.37,19.37M474.11,98.11L474.11,15.11M465.86,93.86L465.86,10.86M531.9,107.15L457.6,68.85M531.9,86.4L457.6,48.1M531.9,65.65L457.6,27.35M444.6,154.36L370.3,116.06M454.3,151.42L380,113.12M464,148.48L389.7,110.18M473.7,145.54L399.4,107.24M483.4,142.6L409.1,104.3M493.1,139.66L418.8,101.36M502.8,136.72L428.5,98.42M512.5,133.78L438.2,95.48M522.2,130.84L447.9,92.54M426.64,153.04L523.64,123.64M418.39,148.79L515.39,119.39M410.13,144.53L507.13,115.13M401.88,140.28L498.88,110.88M393.62,136.02L490.62,106.62M385.37,131.77L482.37,102.37M377.11,127.51L474.11,98.11M368.86,123.26L465.86,93.86" stroke="#eaeaea" stroke-width="0.9" fill="none"/><path d="M360.6,119L360.6,36L457.6,6.6L531.9,44.9M457.6,6.6L457.6,89.6M531.9,44.9L531.9,127.9M360.6,119L457.6,89.6L531.9,127.9" stroke="#555" stroke-width="1" fill="none" stroke-linejoin="miter"/><g stroke="#858585" stroke-width="0.9" stroke-linejoin="round"><polygon points="464.41,38.21 474.11,32.79 465.86,28.29 456.16,34.13" fill="url(#g73)"/><polygon points="454.71,40.57 464.41,38.21 456.16,34.13 446.46,36.49" fill="url(#g74)"/><polygon points="472.67,41.98 482.37,36.96 474.11,32.79 464.41,38.21" fill="url(#g75)"/><polygon points="445.01,42.72 454.71,40.57 446.46,36.49 436.76,38.6" fill="url(#g76)"/><polygon points="462.97,44.39 472.67,41.98 464.41,38.21 454.71,40.57" fill="url(#g77)"/><polygon points="480.92,46.07 490.62,41.47 482.37,36.96 472.67,41.98" fill="url(#g78)"/><polygon points="435.31,44.57 445.01,42.72 436.76,38.6 427.06,40.38" fill="url(#g79)"/><polygon points="453.27,46.61 462.97,44.39 454.71,40.57 445.01,42.72" fill="url(#g80)"/><polygon points="471.22,48.49 480.92,46.07 472.67,41.98 462.97,44.39" fill="url(#g81)"/><polygon points="489.18,50.71 498.88,46.55 490.62,41.47 480.92,46.07" fill="url(#g82)"/><polygon points="425.61,46.72 435.31,44.57 427.06,40.38 417.36,42.49" fill="url(#g83)"/><polygon points="443.57,48.58 453.27,46.61 445.01,42.72 435.31,44.57" fill="url(#g84)"/><polygon points="461.52,50.76 471.22,48.49 462.97,44.39 453.27,46.61" fill="url(#g85)"/><polygon points="479.48,53.13 489.18,50.71 480.92,46.07 471.22,48.49" fill="url(#g86)"/><polygon points="415.91,49.01 425.61,46.72 417.36,42.49 407.66,44.76" fill="url(#g87)"/><polygon points="497.43,55.77 507.13,51.97 498.88,46.55 489.18,50.71" fill="url(#g88)"/><polygon points="433.87,50.81 443.57,48.58 435.31,44.57 425.61,46.72" fill="url(#g89)"/><polygon points="451.82,52.82 461.52,50.76 453.27,46.61 443.57,48.58" fill="url(#g90)"/><polygon points="469.78,55.43 479.48,53.13 471.22,48.49 461.52,50.76" fill="url(#g91)"/><polygon points="406.21,51.16 415.91,49.01 407.66,44.76 397.96,46.87" fill="url(#g92)"/><polygon points="487.73,58.26 497.43,55.77 489.18,50.71 479.48,53.13" fill="url(#g93)"/><polygon points="424.17,53.15 433.87,50.81 425.61,46.72 415.91,49.01" fill="url(#g94)"/><polygon points="505.69,61.15 515.39,57.55 507.13,51.97 497.43,55.77" fill="url(#g95)"/><polygon points="442.12,55.08 451.82,52.82 443.57,48.58 433.87,50.81" fill="url(#g96)"/><polygon points="460.08,57.56 469.78,55.43 461.52,50.76 451.82,52.82" fill="url(#g97)"/><polygon points="396.51,53.02 406.21,51.16 397.96,46.87 388.26,48.65" fill="url(#g98)"/><polygon points="478.03,60.65 487.73,58.26 479.48,53.13 469.78,55.43" fill="url(#g99)"/><polygon points="414.47,55.37 424.17,53.15 415.91,49.01 406.21,51.16" fill="url(#g100)"/><polygon points="495.99,63.88 505.69,61.15 497.43,55.77 487.73,58.26" fill="url(#g101)"/><polygon points="432.42,57.45 442.12,55.08 433.87,50.81 424.17,53.15" fill="url(#g102)"/><polygon points="513.94,66.65 523.64,63.05 515.39,57.55 505.69,61.15" fill="url(#g103)"/><polygon points="450.38,59.85 460.08,57.56 451.82,52.82 442.12,55.08" fill="url(#g104)"/><polygon points="386.81,55.02 396.51,53.02 388.26,48.65 378.56,50.6" fill="url(#g105)"/><polygon points="468.33,62.92 478.03,60.65 469.78,55.43 460.08,57.56" fill="url(#g106)"/><polygon points="404.77,57.34 414.47,55.37 406.21,51.16 396.51,53.02" fill="url(#g107)"/><polygon points="486.29,66.54 495.99,63.88 487.73,58.26 478.03,60.65" fill="url(#g108)"/><polygon points="422.72,59.72 432.42,57.45 424.17,53.15 414.47,55.37" fill="url(#g109)"/><polygon points="504.24,69.8 513.94,66.65 505.69,61.15 495.99,63.88" fill="url(#g110)"/><polygon points="440.68,62.23 450.38,59.85 442.12,55.08 432.42,57.45" fill="url(#g111)"/><polygon points="522.2,79.17 531.9,76.03 523.64,63.05 513.94,66.65" fill="url(#g112)"/><polygon points="458.63,65.32 468.33,62.92 460.08,57.56 450.38,59.85" fill="url(#g113)"/><polygon points="395.07,59.44 404.77,57.34 396.51,53.02 386.81,55.02" fill="url(#g114)"/><polygon points="476.59,69.12 486.29,66.54 478.03,60.65 468.33,62.92" fill="url(#g115)"/><polygon points="413.02,61.78 422.72,59.72 414.47,55.37 404.77,57.34" fill="url(#g116)"/><polygon points="494.54,72.93 504.24,69.8 495.99,63.88 486.29,66.54" fill="url(#g117)"/><polygon points="430.98,64.52 440.68,62.23 432.42,57.45 422.72,59.72" fill="url(#g118)"/><polygon points="512.5,82.31 522.2,79.17 513.94,66.65 504.24,69.8" fill="url(#g119)"/><polygon points="448.93,67.78 458.63,65.32 450.38,59.85 440.68,62.23" fill="url(#g120)"/><polygon points="466.89,71.78 476.59,69.12 468.33,62.92 458.63,65.32" fill="url(#g121)"/><polygon points="403.32,63.94 413.02,61.78 404.77,57.34 395.07,59.44" fill="url(#g122)"/><polygon points="484.84,76.01 494.54,72.93 486.29,66.54 476.59,69.12" fill="url(#g123)"/><polygon points="421.28,66.65 430.98,64.52 422.72,59.72 413.02,61.78" fill="url(#g124)"/><polygon points="502.8,85.45 512.5,82.31 504.24,69.8 494.54,72.93" fill="url(#g125)"/><polygon points="439.23,70.17 448.93,67.78 440.68,62.23 430.98,64.52" fill="url(#g126)"/><polygon points="457.19,74.49 466.89,71.78 458.63,65.32 448.93,67.78" fill="url(#g127)"/><polygon points="475.14,79.13 484.84,76.01 476.59,69.12 466.89,71.78" fill="url(#g128)"/><polygon points="411.58,68.86 421.28,66.65 413.02,61.78 403.32,63.94" fill="url(#g129)"/><polygon points="493.1,88.6 502.8,85.45 494.54,72.93 484.84,76.01" fill="url(#g130)"/><polygon points="429.53,72.44 439.23,70.17 430.98,64.52 421.28,66.65" fill="url(#g131)"/><polygon points="447.49,77.15 457.19,74.49 448.93,67.78 439.23,70.17" fill="url(#g132)"/><polygon points="465.44,82.28 475.14,79.13 466.89,71.78 457.19,74.49" fill="url(#g133)"/><polygon points="483.4,91.74 493.1,88.6 484.84,76.01 475.14,79.13" fill="url(#g134)"/><polygon points="419.83,74.78 429.53,72.44 421.28,66.65 411.58,68.86" fill="url(#g135)"/><polygon points="437.79,79.73 447.49,77.15 439.23,70.17 429.53,72.44" fill="url(#g136)"/><polygon points="455.74,85.4 465.44,82.28 457.19,74.49 447.49,77.15" fill="url(#g137)"/><polygon points="473.7,94.88 483.4,91.74 475.14,79.13 465.44,82.28" fill="url(#g138)"/><polygon points="428.09,82.35 437.79,79.73 429.53,72.44 419.83,74.78" fill="url(#g139)"/><polygon points="446.04,88.49 455.74,85.4 447.49,77.15 437.79,79.73" fill="url(#g140)"/><polygon points="464,98.03 473.7,94.88 465.44,82.28 455.74,85.4" fill="url(#g141)"/><polygon points="436.34,91.59 446.04,88.49 437.79,79.73 428.09,82.35" fill="url(#g142)"/><polygon points="454.3,101.17 464,98.03 455.74,85.4 446.04,88.49" fill="url(#g143)"/><polygon points="444.6,104.31 454.3,101.17 446.04,88.49 436.34,91.59" fill="url(#g144)"/></g><path d="M360.6,119L434.9,157.3L531.9,127.9M360.6,119L358.29,117.81M360.6,98.25L358.29,97.06M360.6,77.5L358.29,76.31M360.6,56.75L358.29,55.56M360.6,36L358.29,34.81M444.6,154.36L446.91,155.55M454.3,151.42L456.61,152.61M464,148.48L466.31,149.67M473.7,145.54L476.01,146.73M483.4,142.6L485.71,143.79M493.1,139.66L495.41,140.85M502.8,136.72L505.11,137.91M512.5,133.78L514.81,134.97M522.2,130.84L524.51,132.03M531.9,127.9L534.21,129.09M434.9,157.3L432.41,158.05M426.64,153.04L424.16,153.8M418.39,148.79L415.9,149.54M410.13,144.53L407.65,145.29M401.88,140.28L399.39,141.03M393.62,136.02L391.13,136.78M385.37,131.77L382.88,132.52M377.11,127.51L374.62,128.27M368.86,123.26L366.37,124.01" stroke="#555" stroke-width="1" fill="none"/><g fill="#000" stroke="#000" stroke-width="0.1"><text transform="translate(356 121.08) scale(1 1.08)" font-size="10.6" text-anchor="end">0</text><text transform="translate(356 100.33) scale(1 1.08)" font-size="10.6" text-anchor="end">0.25</text><text transform="translate(356 79.58) scale(1 1.08)" font-size="10.6" text-anchor="end">0.5</text><text transform="translate(356 58.83) scale(1 1.08)" font-size="10.6" text-anchor="end">0.75</text><text transform="translate(356 38.08) scale(1 1.08)" font-size="10.6" text-anchor="end">1</text><text transform="translate(448.9 166.54) scale(1 1.08)" font-size="10.6">1</text><text transform="translate(458.6 163.6) scale(1 1.08)" font-size="10.6">2</text><text transform="translate(468.3 160.66) scale(1 1.08)" font-size="10.6">3</text><text transform="translate(478 157.72) scale(1 1.08)" font-size="10.6">4</text><text transform="translate(487.7 154.78) scale(1 1.08)" font-size="10.6">5</text><text transform="translate(497.4 151.84) scale(1 1.08)" font-size="10.6">6</text><text transform="translate(507.1 148.9) scale(1 1.08)" font-size="10.6">7</text><text transform="translate(516.8 145.96) scale(1 1.08)" font-size="10.6">8</text><text transform="translate(526.5 143.02) scale(1 1.08)" font-size="10.6">9</text><text transform="translate(536.2 140.08) scale(1 1.08)" font-size="10.6">10</text><text transform="translate(430.5 168.78) scale(1 1.08)" font-size="10.6" text-anchor="end">2</text><text transform="translate(422.24 164.52) scale(1 1.08)" font-size="10.6" text-anchor="end">3</text><text transform="translate(413.99 160.27) scale(1 1.08)" font-size="10.6" text-anchor="end">4</text><text transform="translate(405.73 156.01) scale(1 1.08)" font-size="10.6" text-anchor="end">5</text><text transform="translate(397.48 151.76) scale(1 1.08)" font-size="10.6" text-anchor="end">6</text><text transform="translate(389.22 147.5) scale(1 1.08)" font-size="10.6" text-anchor="end">7</text><text transform="translate(380.97 143.24) scale(1 1.08)" font-size="10.6" text-anchor="end">8</text><text transform="translate(372.71 138.99) scale(1 1.08)" font-size="10.6" text-anchor="end">9</text><text transform="translate(364.46 134.73) scale(1 1.08)" font-size="10.6" text-anchor="end">10</text><text transform="translate(333.8 76.7) scale(1 1.08) rotate(-90)" font-size="10.7" text-anchor="middle">BE value</text><text transform="translate(370 164) scale(1 1.08) rotate(27.27)" font-size="12" text-anchor="middle" font-style="italic">m</text><text transform="translate(504.4 163.5) scale(1 1.08) rotate(-16.86)" font-size="11.2" text-anchor="middle">Scale factor</text></g><path d="M46.88,323.62L46.88,240.62M56.76,320.74L56.76,237.74M66.64,317.86L66.64,234.86M76.52,314.98L76.52,231.98M86.4,312.1L86.4,229.1M96.28,309.22L96.28,226.22M106.16,306.34L106.16,223.34M116.04,303.46L116.04,220.46M125.92,300.58L125.92,217.58M37,305.75L135.8,276.95M37,285L135.8,256.2M37,264.25L135.8,235.45M203.75,332.17L203.75,249.17M196.2,328.34L196.2,245.34M188.65,324.51L188.65,241.51M181.1,320.68L181.1,237.68M173.55,316.85L173.55,233.85M166,313.02L166,230.02M158.45,309.19L158.45,226.19M150.9,305.36L150.9,222.36M143.35,301.53L143.35,218.53M211.3,315.25L135.8,276.95M211.3,294.5L135.8,256.2M211.3,273.75L135.8,235.45M122.38,361.92L46.88,323.62M132.26,359.04L56.76,320.74M142.14,356.16L66.64,317.86M152.02,353.28L76.52,314.98M161.9,350.4L86.4,312.1M171.78,347.52L96.28,309.22M181.66,344.64L106.16,306.34M191.54,341.76L116.04,303.46M201.42,338.88L125.92,300.58M104.95,360.97L203.75,332.17M97.4,357.14L196.2,328.34M89.85,353.31L188.65,324.51M82.3,349.48L181.1,320.68M74.75,345.65L173.55,316.85M67.2,341.82L166,313.02M59.65,337.99L158.45,309.19M52.1,334.16L150.9,305.36M44.55,330.33L143.35,301.53" stroke="#eaeaea" stroke-width="0.9" fill="none"/><path d="M37,326.5L37,243.5L135.8,214.7L211.3,253M135.8,214.7L135.8,297.7M211.3,253L211.3,336M37,326.5L135.8,297.7L211.3,336" stroke="#555" stroke-width="1" fill="none" stroke-linejoin="miter"/><g stroke="#858585" stroke-width="0.9" stroke-linejoin="round"><polygon points="141.02,253.47 150.9,251.16 143.35,248.66 133.47,250.71" fill="url(#g145)"/><polygon points="131.14,255.92 141.02,253.47 133.47,250.71 123.59,252.92" fill="url(#g146)"/><polygon points="148.57,257.32 158.45,254.91 150.9,251.16 141.02,253.47" fill="url(#g147)"/><polygon points="121.26,258.95 131.14,255.92 123.59,252.92 113.71,255.8" fill="url(#g148)"/><polygon points="138.69,259.86 148.57,257.32 141.02,253.47 131.14,255.92" fill="url(#g149)"/><polygon points="156.12,261.68 166,259.24 158.45,254.91 148.57,257.32" fill="url(#g150)"/><polygon points="111.38,260.97 121.26,258.95 113.71,255.8 103.83,257.52" fill="url(#g151)"/><polygon points="128.81,262.9 138.69,259.86 131.14,255.92 121.26,258.95" fill="url(#g152)"/><polygon points="146.24,264.24 156.12,261.68 148.57,257.32 138.69,259.86" fill="url(#g153)"/><polygon points="163.67,267.78 173.55,265.47 166,259.24 156.12,261.68" fill="url(#g154)"/><polygon points="101.5,263.85 111.38,260.97 103.83,257.52 93.95,260.24" fill="url(#g155)"/><polygon points="118.93,265.06 128.81,262.9 121.26,258.95 111.38,260.97" fill="url(#g156)"/><polygon points="136.36,267.21 146.24,264.24 138.69,259.86 128.81,262.9" fill="url(#g157)"/><polygon points="153.79,270.17 163.67,267.78 156.12,261.68 146.24,264.24" fill="url(#g158)"/><polygon points="91.62,266.23 101.5,263.85 93.95,260.24 84.07,262.37" fill="url(#g159)"/><polygon points="171.22,272.67 181.1,270.3 173.55,265.47 163.67,267.78" fill="url(#g160)"/><polygon points="109.05,267.98 118.93,265.06 111.38,260.97 101.5,263.85" fill="url(#g161)"/><polygon points="126.48,269.45 136.36,267.21 128.81,262.9 118.93,265.06" fill="url(#g162)"/><polygon points="143.91,272.9 153.79,270.17 146.24,264.24 136.36,267.21" fill="url(#g163)"/><polygon points="81.74,268.75 91.62,266.23 84.07,262.37 74.19,264.67" fill="url(#g164)"/><polygon points="161.34,275.1 171.22,272.67 163.67,267.78 153.79,270.17" fill="url(#g165)"/><polygon points="99.17,270.45 109.05,267.98 101.5,263.85 91.62,266.23" fill="url(#g166)"/><polygon points="178.77,277.86 188.65,275.37 181.1,270.3 171.22,272.67" fill="url(#g167)"/><polygon points="116.6,272.31 126.48,269.45 118.93,265.06 109.05,267.98" fill="url(#g168)"/><polygon points="134.03,275.04 143.91,272.9 136.36,267.21 126.48,269.45" fill="url(#g169)"/><polygon points="71.86,271.79 81.74,268.75 74.19,264.67 64.31,267.55" fill="url(#g170)"/><polygon points="151.46,277.78 161.34,275.1 153.79,270.17 143.91,272.9" fill="url(#g171)"/><polygon points="89.29,273.05 99.17,270.45 91.62,266.23 81.74,268.75" fill="url(#g172)"/><polygon points="168.89,280.39 178.77,277.86 171.22,272.67 161.34,275.1" fill="url(#g173)"/><polygon points="106.72,274.81 116.6,272.31 109.05,267.98 99.17,270.45" fill="url(#g174)"/><polygon points="186.32,282.58 196.2,279.87 188.65,275.37 178.77,277.86" fill="url(#g175)"/><polygon points="124.15,277.68 134.03,275.04 126.48,269.45 116.6,272.31" fill="url(#g176)"/><polygon points="61.98,274.67 71.86,271.79 64.31,267.55 54.43,270.26" fill="url(#g177)"/><polygon points="141.58,280.03 151.46,277.78 143.91,272.9 134.03,275.04" fill="url(#g178)"/><polygon points="79.41,276.09 89.29,273.05 81.74,268.75 71.86,271.79" fill="url(#g179)"/><polygon points="159.01,283.09 168.89,280.39 161.34,275.1 151.46,277.78" fill="url(#g180)"/><polygon points="96.84,277.42 106.72,274.81 99.17,270.45 89.29,273.05" fill="url(#g181)"/><polygon points="176.44,285.32 186.32,282.58 178.77,277.86 168.89,280.39" fill="url(#g182)"/><polygon points="114.27,280.03 124.15,277.68 116.6,272.31 106.72,274.81" fill="url(#g183)"/><polygon points="193.87,291.38 203.75,288.6 196.2,279.87 186.32,282.58" fill="url(#g184)"/><polygon points="131.7,282.65 141.58,280.03 134.03,275.04 124.15,277.68" fill="url(#g185)"/><polygon points="69.53,279 79.41,276.09 71.86,271.79 61.98,274.67" fill="url(#g186)"/><polygon points="149.13,285.49 159.01,283.09 151.46,277.78 141.58,280.03" fill="url(#g187)"/><polygon points="86.96,280.38 96.84,277.42 89.29,273.05 79.41,276.09" fill="url(#g188)"/><polygon points="166.56,288.14 176.44,285.32 168.89,280.39 159.01,283.09" fill="url(#g189)"/><polygon points="104.39,282.46 114.27,280.03 106.72,274.81 96.84,277.42" fill="url(#g190)"/><polygon points="183.99,294.17 193.87,291.38 186.32,282.58 176.44,285.32" fill="url(#g191)"/><polygon points="121.82,285.05 131.7,282.65 124.15,277.68 114.27,280.03" fill="url(#g192)"/><polygon points="139.25,288.15 149.13,285.49 141.58,280.03 131.7,282.65" fill="url(#g193)"/><polygon points="77.08,283.25 86.96,280.38 79.41,276.09 69.53,279" fill="url(#g194)"/><polygon points="156.68,290.82 166.56,288.14 159.01,283.09 149.13,285.49" fill="url(#g195)"/><polygon points="94.51,285.18 104.39,282.46 96.84,277.42 86.96,280.38" fill="url(#g196)"/><polygon points="174.11,296.96 183.99,294.17 176.44,285.32 166.56,288.14" fill="url(#g197)"/><polygon points="111.94,287.51 121.82,285.05 114.27,280.03 104.39,282.46" fill="url(#g198)"/><polygon points="129.37,290.66 139.25,288.15 131.7,282.65 121.82,285.05" fill="url(#g199)"/><polygon points="146.8,293.62 156.68,290.82 149.13,285.49 139.25,288.15" fill="url(#g200)"/><polygon points="84.63,287.82 94.51,285.18 86.96,280.38 77.08,283.25" fill="url(#g201)"/><polygon points="164.23,299.75 174.11,296.96 166.56,288.14 156.68,290.82" fill="url(#g202)"/><polygon points="102.06,290.2 111.94,287.51 104.39,282.46 94.51,285.18" fill="url(#g203)"/><polygon points="119.49,293.21 129.37,290.66 121.82,285.05 111.94,287.51" fill="url(#g204)"/><polygon points="136.92,296.34 146.8,293.62 139.25,288.15 129.37,290.66" fill="url(#g205)"/><polygon points="154.35,302.53 164.23,299.75 156.68,290.82 146.8,293.62" fill="url(#g206)"/><polygon points="92.18,292.82 102.06,290.2 94.51,285.18 84.63,287.82" fill="url(#g207)"/><polygon points="109.61,295.9 119.49,293.21 111.94,287.51 102.06,290.2" fill="url(#g208)"/><polygon points="127.04,299.09 136.92,296.34 129.37,290.66 119.49,293.21" fill="url(#g209)"/><polygon points="144.47,305.32 154.35,302.53 146.8,293.62 136.92,296.34" fill="url(#g210)"/><polygon points="99.73,298.56 109.61,295.9 102.06,290.2 92.18,292.82" fill="url(#g211)"/><polygon points="117.16,301.91 127.04,299.09 119.49,293.21 109.61,295.9" fill="url(#g212)"/><polygon points="134.59,308.11 144.47,305.32 136.92,296.34 127.04,299.09" fill="url(#g213)"/><polygon points="107.28,304.71 117.16,301.91 109.61,295.9 99.73,298.56" fill="url(#g214)"/><polygon points="124.71,310.9 134.59,308.11 127.04,299.09 117.16,301.91" fill="url(#g215)"/><polygon points="114.83,313.69 124.71,310.9 117.16,301.91 107.28,304.71" fill="url(#g216)"/></g><path d="M37,326.5L112.5,364.8L211.3,336M37,326.5L34.68,325.32M37,305.75L34.68,304.57M37,285L34.68,283.82M37,264.25L34.68,263.07M37,243.5L34.68,242.32M122.38,361.92L124.7,363.1M132.26,359.04L134.58,360.22M142.14,356.16L144.46,357.34M152.02,353.28L154.34,354.46M161.9,350.4L164.22,351.58M171.78,347.52L174.1,348.7M181.66,344.64L183.98,345.82M191.54,341.76L193.86,342.94M201.42,338.88L203.74,340.06M211.3,336L213.62,337.18M104.95,360.97L102.45,361.7M97.4,357.14L94.9,357.87M89.85,353.31L87.35,354.04M82.3,349.48L79.8,350.21M74.75,345.65L72.25,346.38M67.2,341.82L64.7,342.55M59.65,337.99L57.15,338.72M52.1,334.16L49.6,334.89M44.55,330.33L42.05,331.06" stroke="#555" stroke-width="1" fill="none"/><g fill="#000" stroke="#000" stroke-width="0.1"><text transform="translate(33.5 328.79) scale(1 1.08)" font-size="9.8" text-anchor="end">0</text><text transform="translate(33.5 308.04) scale(1 1.08)" font-size="9.8" text-anchor="end">0.25</text><text transform="translate(33.5 287.29) scale(1 1.08)" font-size="9.8" text-anchor="end">0.5</text><text transform="translate(33.5 266.54) scale(1 1.08)" font-size="9.8" text-anchor="end">0.75</text><text transform="translate(33.5 245.79) scale(1 1.08)" font-size="9.8" text-anchor="end">1</text><text transform="translate(126.28 373.81) scale(1 1.08)" font-size="9.8">1</text><text transform="translate(136.16 370.93) scale(1 1.08)" font-size="9.8">2</text><text transform="translate(146.04 368.05) scale(1 1.08)" font-size="9.8">3</text><text transform="translate(155.92 365.17) scale(1 1.08)" font-size="9.8">4</text><text transform="translate(165.8 362.29) scale(1 1.08)" font-size="9.8">5</text><text transform="translate(175.68 359.41) scale(1 1.08)" font-size="9.8">6</text><text transform="translate(185.56 356.53) scale(1 1.08)" font-size="9.8">7</text><text transform="translate(195.44 353.65) scale(1 1.08)" font-size="9.8">8</text><text transform="translate(205.32 350.77) scale(1 1.08)" font-size="9.8">9</text><text transform="translate(215.2 347.89) scale(1 1.08)" font-size="9.8">10</text><text transform="translate(101.35 371.76) scale(1 1.08)" font-size="9.8" text-anchor="end">2</text><text transform="translate(93.8 367.93) scale(1 1.08)" font-size="9.8" text-anchor="end">3</text><text transform="translate(86.25 364.1) scale(1 1.08)" font-size="9.8" text-anchor="end">4</text><text transform="translate(78.7 360.27) scale(1 1.08)" font-size="9.8" text-anchor="end">5</text><text transform="translate(71.15 356.44) scale(1 1.08)" font-size="9.8" text-anchor="end">6</text><text transform="translate(63.6 352.61) scale(1 1.08)" font-size="9.8" text-anchor="end">7</text><text transform="translate(56.05 348.78) scale(1 1.08)" font-size="9.8" text-anchor="end">8</text><text transform="translate(48.5 344.95) scale(1 1.08)" font-size="9.8" text-anchor="end">9</text><text transform="translate(40.95 341.12) scale(1 1.08)" font-size="9.8" text-anchor="end">10</text><text transform="translate(13.4 284.5) scale(1 1.08) rotate(-90)" font-size="9.8" text-anchor="middle">BE value</text><text transform="translate(44.8 369.9) scale(1 1.08) rotate(26.9)" font-size="10.5" text-anchor="middle" font-style="italic">m</text><text transform="translate(192 368.2) scale(1 1.08) rotate(-16.25)" font-size="10" text-anchor="middle">Scale factor</text></g><path d="M366.41,323.56L366.41,240.56M376.32,320.62L376.32,237.62M386.23,317.68L386.23,234.68M396.14,314.74L396.14,231.74M406.05,311.8L406.05,228.8M415.96,308.86L415.96,225.86M425.87,305.92L425.87,222.92M435.78,302.98L435.78,219.98M445.69,300.04L445.69,217.04M356.5,305.75L455.6,276.35M356.5,285L455.6,255.6M356.5,264.25L455.6,234.85M524.27,331.66L524.27,248.66M516.64,327.82L516.64,244.82M509.01,323.98L509.01,240.98M501.38,320.14L501.38,237.14M493.75,316.3L493.75,233.3M486.12,312.46L486.12,229.46M478.49,308.62L478.49,225.62M470.86,304.78L470.86,221.78M463.23,300.94L463.23,217.94M531.9,314.75L455.6,276.35M531.9,294L455.6,255.6M531.9,273.25L455.6,234.85M442.71,361.96L366.41,323.56M452.62,359.02L376.32,320.62M462.53,356.08L386.23,317.68M472.44,353.14L396.14,314.74M482.35,350.2L406.05,311.8M492.26,347.26L415.96,308.86M502.17,344.32L425.87,305.92M512.08,341.38L435.78,302.98M521.99,338.44L445.69,300.04M425.17,361.06L524.27,331.66M417.54,357.22L516.64,327.82M409.91,353.38L509.01,323.98M402.28,349.54L501.38,320.14M394.65,345.7L493.75,316.3M387.02,341.86L486.12,312.46M379.39,338.02L478.49,308.62M371.76,334.18L470.86,304.78M364.13,330.34L463.23,300.94" stroke="#eaeaea" stroke-width="0.9" fill="none"/><path d="M356.5,326.5L356.5,243.5L455.6,214.1L531.9,252.5M455.6,214.1L455.6,297.1M531.9,252.5L531.9,335.5M356.5,326.5L455.6,297.1L531.9,335.5" stroke="#555" stroke-width="1" fill="none" stroke-linejoin="miter"/><g stroke="#858585" stroke-width="0.9" stroke-linejoin="round"><polygon points="460.95,244.6 470.86,241.53 463.23,237.28 453.32,240.49" fill="url(#g217)"/><polygon points="451.04,246.95 460.95,244.6 453.32,240.49 443.41,242.86" fill="url(#g218)"/><polygon points="468.58,248.42 478.49,245.46 470.86,241.53 460.95,244.6" fill="url(#g219)"/><polygon points="441.13,249 451.04,246.95 443.41,242.86 433.5,244.91" fill="url(#g220)"/><polygon points="458.67,250.76 468.58,248.42 460.95,244.6 451.04,246.95" fill="url(#g221)"/><polygon points="476.21,252.74 486.12,249.96 478.49,245.46 468.58,248.42" fill="url(#g222)"/><polygon points="431.22,250.98 441.13,249 433.5,244.91 423.59,246.87" fill="url(#g223)"/><polygon points="448.76,252.85 458.67,250.76 451.04,246.95 441.13,249" fill="url(#g224)"/><polygon points="466.3,255 476.21,252.74 468.58,248.42 458.67,250.76" fill="url(#g225)"/><polygon points="483.84,257.53 493.75,254.96 486.12,249.96 476.21,252.74" fill="url(#g226)"/><polygon points="421.31,252.96 431.22,250.98 423.59,246.87 413.68,248.83" fill="url(#g227)"/><polygon points="438.85,254.87 448.76,252.85 441.13,249 431.22,250.98" fill="url(#g228)"/><polygon points="456.39,257.05 466.3,255 458.67,250.76 448.76,252.85" fill="url(#g229)"/><polygon points="473.93,259.68 483.84,257.53 476.21,252.74 466.3,255" fill="url(#g230)"/><polygon points="411.4,254.73 421.31,252.96 413.68,248.83 403.77,250.55" fill="url(#g231)"/><polygon points="491.47,262.76 501.38,260.38 493.75,254.96 483.84,257.53" fill="url(#g232)"/><polygon points="428.94,256.9 438.85,254.87 431.22,250.98 421.31,252.96" fill="url(#g233)"/><polygon points="446.48,259.05 456.39,257.05 448.76,252.85 438.85,254.87" fill="url(#g234)"/><polygon points="464.02,261.67 473.93,259.68 466.3,255 456.39,257.05" fill="url(#g235)"/><polygon points="401.49,256.85 411.4,254.73 403.77,250.55 393.86,252.68" fill="url(#g236)"/><polygon points="481.56,264.84 491.47,262.76 483.84,257.53 473.93,259.68" fill="url(#g237)"/><polygon points="419.03,258.74 428.94,256.9 421.31,252.96 411.4,254.73" fill="url(#g238)"/><polygon points="499.1,268.27 509.01,265.96 501.38,260.38 491.47,262.76" fill="url(#g239)"/><polygon points="436.57,261.05 446.48,259.05 438.85,254.87 428.94,256.9" fill="url(#g240)"/><polygon points="454.11,263.61 464.02,261.67 456.39,257.05 446.48,259.05" fill="url(#g241)"/><polygon points="391.58,259.05 401.49,256.85 393.86,252.68 383.95,254.89" fill="url(#g242)"/><polygon points="471.65,266.78 481.56,264.84 473.93,259.68 464.02,261.67" fill="url(#g243)"/><polygon points="409.12,260.89 419.03,258.74 411.4,254.73 401.49,256.85" fill="url(#g244)"/><polygon points="489.19,270.38 499.1,268.27 491.47,262.76 481.56,264.84" fill="url(#g245)"/><polygon points="426.66,262.89 436.57,261.05 428.94,256.9 419.03,258.74" fill="url(#g246)"/><polygon points="506.73,275.87 516.64,273.62 509.01,265.96 499.1,268.27" fill="url(#g247)"/><polygon points="444.2,265.55 454.11,263.61 446.48,259.05 436.57,261.05" fill="url(#g248)"/><polygon points="381.67,261.11 391.58,259.05 383.95,254.89 374.04,256.93" fill="url(#g249)"/><polygon points="461.74,268.7 471.65,266.78 464.02,261.67 454.11,263.61" fill="url(#g250)"/><polygon points="399.21,263.1 409.12,260.89 401.49,256.85 391.58,259.05" fill="url(#g251)"/><polygon points="479.28,272.4 489.19,270.38 481.56,264.84 471.65,266.78" fill="url(#g252)"/><polygon points="416.75,264.99 426.66,262.89 419.03,258.74 409.12,260.89" fill="url(#g253)"/><polygon points="496.82,278.01 506.73,275.87 499.1,268.27 489.19,270.38" fill="url(#g254)"/><polygon points="434.29,267.37 444.2,265.55 436.57,261.05 426.66,262.89" fill="url(#g255)"/><polygon points="514.36,286.92 524.27,284.35 516.64,273.62 506.73,275.87" fill="url(#g256)"/><polygon points="451.83,270.62 461.74,268.7 454.11,263.61 444.2,265.55" fill="url(#g257)"/><polygon points="389.3,265.19 399.21,263.1 391.58,259.05 381.67,261.11" fill="url(#g258)"/><polygon points="469.37,274.4 479.28,272.4 471.65,266.78 461.74,268.7" fill="url(#g259)"/><polygon points="406.84,267.15 416.75,264.99 409.12,260.89 399.21,263.1" fill="url(#g260)"/><polygon points="486.91,280.11 496.82,278.01 489.19,270.38 479.28,272.4" fill="url(#g261)"/><polygon points="424.38,269.4 434.29,267.37 426.66,262.89 416.75,264.99" fill="url(#g262)"/><polygon points="504.45,289.49 514.36,286.92 506.73,275.87 496.82,278.01" fill="url(#g263)"/><polygon points="441.92,272.44 451.83,270.62 444.2,265.55 434.29,267.37" fill="url(#g264)"/><polygon points="459.46,276.4 469.37,274.4 461.74,268.7 451.83,270.62" fill="url(#g265)"/><polygon points="396.93,269.2 406.84,267.15 399.21,263.1 389.3,265.19" fill="url(#g266)"/><polygon points="477,282.21 486.91,280.11 479.28,272.4 469.37,274.4" fill="url(#g267)"/><polygon points="414.47,271.47 424.38,269.4 416.75,264.99 406.84,267.15" fill="url(#g268)"/><polygon points="494.54,292.06 504.45,289.49 496.82,278.01 486.91,280.11" fill="url(#g269)"/><polygon points="432.01,274.42 441.92,272.44 434.29,267.37 424.38,269.4" fill="url(#g270)"/><polygon points="449.55,278.33 459.46,276.4 451.83,270.62 441.92,272.44" fill="url(#g271)"/><polygon points="467.09,284.3 477,282.21 469.37,274.4 459.46,276.4" fill="url(#g272)"/><polygon points="404.56,273.45 414.47,271.47 406.84,267.15 396.93,269.2" fill="url(#g273)"/><polygon points="484.63,294.63 494.54,292.06 486.91,280.11 477,282.21" fill="url(#g274)"/><polygon points="422.1,276.43 432.01,274.42 424.38,269.4 414.47,271.47" fill="url(#g275)"/><polygon points="439.64,280.37 449.55,278.33 441.92,272.44 432.01,274.42" fill="url(#g276)"/><polygon points="457.18,286.36 467.09,284.3 459.46,276.4 449.55,278.33" fill="url(#g277)"/><polygon points="474.72,297.21 484.63,294.63 477,282.21 467.09,284.3" fill="url(#g278)"/><polygon points="412.19,278.37 422.1,276.43 414.47,271.47 404.56,273.45" fill="url(#g279)"/><polygon points="429.73,282.43 439.64,280.37 432.01,274.42 422.1,276.43" fill="url(#g280)"/><polygon points="447.27,288.47 457.18,286.36 449.55,278.33 439.64,280.37" fill="url(#g281)"/><polygon points="464.81,299.78 474.72,297.21 467.09,284.3 457.18,286.36" fill="url(#g282)"/><polygon points="419.82,284.45 429.73,282.43 422.1,276.43 412.19,278.37" fill="url(#g283)"/><polygon points="437.36,290.59 447.27,288.47 439.64,280.37 429.73,282.43" fill="url(#g284)"/><polygon points="454.9,302.35 464.81,299.78 457.18,286.36 447.27,288.47" fill="url(#g285)"/><polygon points="427.45,292.69 437.36,290.59 429.73,282.43 419.82,284.45" fill="url(#g286)"/><polygon points="444.99,304.92 454.9,302.35 447.27,288.47 437.36,290.59" fill="url(#g287)"/><polygon points="435.08,307.49 444.99,304.92 437.36,290.59 427.45,292.69" fill="url(#g288)"/></g><path d="M356.5,326.5L432.8,364.9L531.9,335.5M356.5,326.5L354.18,325.33M356.5,305.75L354.18,304.58M356.5,285L354.18,283.83M356.5,264.25L354.18,263.08M356.5,243.5L354.18,242.33M442.71,361.96L445.03,363.13M452.62,359.02L454.94,360.19M462.53,356.08L464.85,357.25M472.44,353.14L474.76,354.31M482.35,350.2L484.67,351.37M492.26,347.26L494.58,348.43M502.17,344.32L504.49,345.49M512.08,341.38L514.4,342.55M521.99,338.44L524.31,339.61M531.9,335.5L534.22,336.67M425.17,361.06L422.68,361.8M417.54,357.22L415.05,357.96M409.91,353.38L407.42,354.12M402.28,349.54L399.79,350.28M394.65,345.7L392.16,346.44M387.02,341.86L384.53,342.6M379.39,338.02L376.9,338.76M371.76,334.18L369.27,334.92M364.13,330.34L361.64,331.08" stroke="#555" stroke-width="1" fill="none"/><g fill="#000" stroke="#000" stroke-width="0.1"><text transform="translate(352.3 328.79) scale(1 1.08)" font-size="9.8" text-anchor="end">0</text><text transform="translate(352.3 308.04) scale(1 1.08)" font-size="9.8" text-anchor="end">0.25</text><text transform="translate(352.3 287.29) scale(1 1.08)" font-size="9.8" text-anchor="end">0.5</text><text transform="translate(352.3 266.54) scale(1 1.08)" font-size="9.8" text-anchor="end">0.75</text><text transform="translate(352.3 245.79) scale(1 1.08)" font-size="9.8" text-anchor="end">1</text><text transform="translate(446.61 373.85) scale(1 1.08)" font-size="9.8">1</text><text transform="translate(456.52 370.91) scale(1 1.08)" font-size="9.8">2</text><text transform="translate(466.43 367.97) scale(1 1.08)" font-size="9.8">3</text><text transform="translate(476.34 365.03) scale(1 1.08)" font-size="9.8">4</text><text transform="translate(486.25 362.09) scale(1 1.08)" font-size="9.8">5</text><text transform="translate(496.16 359.15) scale(1 1.08)" font-size="9.8">6</text><text transform="translate(506.07 356.21) scale(1 1.08)" font-size="9.8">7</text><text transform="translate(515.98 353.27) scale(1 1.08)" font-size="9.8">8</text><text transform="translate(525.89 350.33) scale(1 1.08)" font-size="9.8">9</text><text transform="translate(535.8 347.39) scale(1 1.08)" font-size="9.8">10</text><text transform="translate(421.57 371.85) scale(1 1.08)" font-size="9.8" text-anchor="end">2</text><text transform="translate(413.94 368.01) scale(1 1.08)" font-size="9.8" text-anchor="end">3</text><text transform="translate(406.31 364.17) scale(1 1.08)" font-size="9.8" text-anchor="end">4</text><text transform="translate(398.68 360.33) scale(1 1.08)" font-size="9.8" text-anchor="end">5</text><text transform="translate(391.05 356.49) scale(1 1.08)" font-size="9.8" text-anchor="end">6</text><text transform="translate(383.42 352.65) scale(1 1.08)" font-size="9.8" text-anchor="end">7</text><text transform="translate(375.79 348.81) scale(1 1.08)" font-size="9.8" text-anchor="end">8</text><text transform="translate(368.16 344.97) scale(1 1.08)" font-size="9.8" text-anchor="end">9</text><text transform="translate(360.53 341.13) scale(1 1.08)" font-size="9.8" text-anchor="end">10</text><text transform="translate(333.2 284.9) scale(1 1.08) rotate(-90)" font-size="9.8" text-anchor="middle">BE value</text><text transform="translate(363.7 373.1) scale(1 1.08) rotate(26.72)" font-size="10.5" text-anchor="middle" font-style="italic">m</text><text transform="translate(505 374.8) scale(1 1.08) rotate(-16.52)" font-size="10" text-anchor="middle">Scale factor</text></g>
<g fill="#111"><text x="118.9" y="194.7" text-anchor="middle" font-size="16">(<tspan font-weight="bold">a</tspan>)</text><text x="438.6" y="194.7" text-anchor="middle" font-size="16">(<tspan font-weight="bold">b</tspan>)</text><text x="119.1" y="402.8" text-anchor="middle" font-size="16">(<tspan font-weight="bold">c</tspan>)</text><text x="438.6" y="403" text-anchor="middle" font-size="16">(<tspan font-weight="bold">d</tspan>)</text></g>
</svg>
</body></html>
